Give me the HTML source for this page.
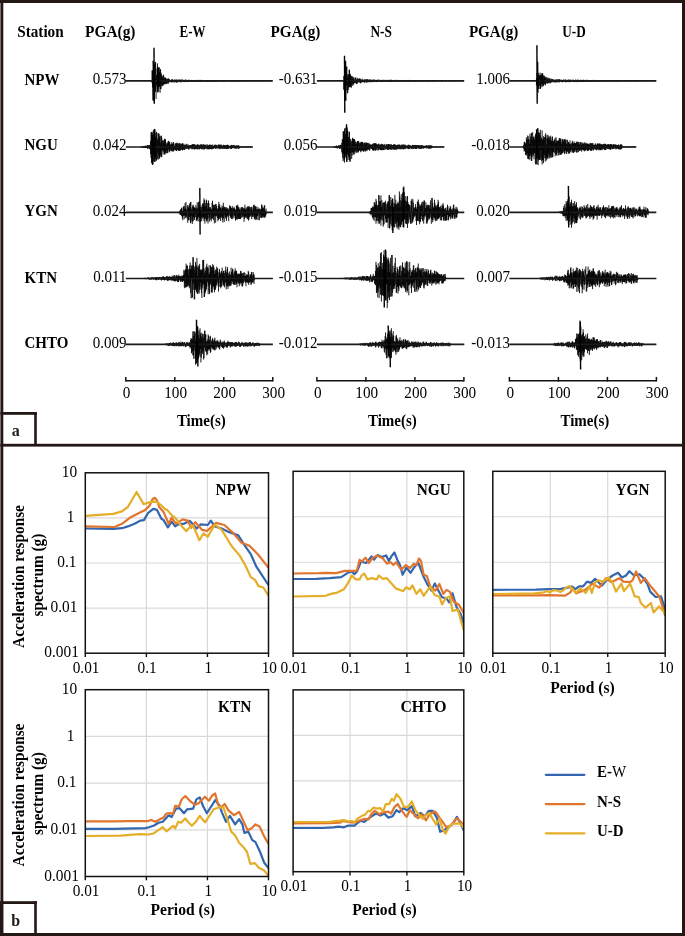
<!DOCTYPE html>
<html><head><meta charset="utf-8"><title>Figure</title>
<style>
html,body{margin:0;padding:0;background:#fff;}
body{width:685px;height:936px;overflow:hidden;font-family:"Liberation Serif",serif;}
svg{display:block;will-change:transform;}
text{font-family:"Liberation Serif",serif;}
</style></head>
<body>
<svg width="685" height="936" viewBox="0 0 685 936" font-family="Liberation Serif, serif">
<rect x="0" y="0" width="685" height="936" fill="#fff"/>
<rect x="0" y="0" width="685" height="3" fill="#231815"/>
<rect x="0.4" y="0" width="2.9" height="936" fill="#231815"/>
<rect x="682" y="0" width="3" height="936" fill="#231815"/>
<rect x="0" y="933" width="685" height="3" fill="#231815"/>
<rect x="0.4" y="443.8" width="684" height="2.8" fill="#231815"/>
<rect x="0.4" y="412" width="36.4" height="2.8" fill="#231815"/>
<rect x="34.2" y="412" width="2.6" height="34" fill="#231815"/>
<rect x="0.4" y="901.2" width="36.4" height="2.8" fill="#231815"/>
<rect x="34.2" y="901.2" width="2.6" height="34" fill="#231815"/>
<rect x="0" y="901.2" width="3.2" height="35" fill="#231815"/>
<text transform="translate(15.80,436.00) scale(1,1.05)" x="0" y="0" font-size="16" font-weight="bold" text-anchor="middle" fill="#231815" >a</text>
<text transform="translate(15.80,925.50) scale(1,1.05)" x="0" y="0" font-size="16" font-weight="bold" text-anchor="middle" fill="#231815" >b</text>
<text transform="translate(17.20,36.70) scale(1,1.05)" x="0" y="0" font-size="15" font-weight="bold" text-anchor="start" fill="#000" textLength="46.5" lengthAdjust="spacingAndGlyphs">Station</text>
<text transform="translate(85.10,36.60) scale(1,1.05)" x="0" y="0" font-size="15" font-weight="bold" text-anchor="start" fill="#000" textLength="50.4" lengthAdjust="spacingAndGlyphs">PGA(g)</text>
<text transform="translate(270.60,36.60) scale(1,1.05)" x="0" y="0" font-size="15" font-weight="bold" text-anchor="start" fill="#000" textLength="49.7" lengthAdjust="spacingAndGlyphs">PGA(g)</text>
<text transform="translate(468.90,36.60) scale(1,1.05)" x="0" y="0" font-size="15" font-weight="bold" text-anchor="start" fill="#000" textLength="49.5" lengthAdjust="spacingAndGlyphs">PGA(g)</text>
<text transform="translate(179.50,36.60) scale(1,1.05)" x="0" y="0" font-size="15" font-weight="bold" text-anchor="start" fill="#000" textLength="26.0" lengthAdjust="spacingAndGlyphs">E-W</text>
<text transform="translate(370.40,36.60) scale(1,1.05)" x="0" y="0" font-size="15" font-weight="bold" text-anchor="start" fill="#000" textLength="21.4" lengthAdjust="spacingAndGlyphs">N-S</text>
<text transform="translate(562.30,36.60) scale(1,1.05)" x="0" y="0" font-size="15" font-weight="bold" text-anchor="start" fill="#000" textLength="23.5" lengthAdjust="spacingAndGlyphs">U-D</text>
<text transform="translate(24.50,84.90) scale(1,1.05)" x="0" y="0" font-size="15" font-weight="bold" text-anchor="start" fill="#000" >NPW</text>
<text transform="translate(126.40,84.25) scale(1,1.05)" x="0" y="0" font-size="15" text-anchor="end" fill="#000" >0.573</text>
<path d="M152.03,70.41V82.99M152.48,70.46V87.42M152.93,70.46V100.36M153.38,79.85V95.26M153.83,67.72V96.44M154.28,65.06V89.28M154.73,63.43V89.01M155.18,61.86V91.70M155.62,62.10V91.69M156.08,78.54V98.92M156.53,74.98V84.94M156.98,68.57V86.58M157.43,63.37V92.29M157.88,73.82V92.38M158.33,76.42V85.09M158.78,76.02V92.06M159.23,67.23V85.87M159.68,72.07V87.05M160.12,69.80V92.59M160.58,69.03V88.97M161.03,72.64V88.97M161.48,74.26V84.23M161.93,76.09V86.00M162.38,77.19V86.27M162.83,76.09V85.31M163.28,74.58V85.37M163.73,75.28V83.88M164.18,78.46V84.36M164.62,77.74V83.98M165.08,77.27V84.36M165.53,77.93V83.50M165.98,77.93V83.29M166.43,79.17V84.12M166.88,78.94V83.21M167.33,78.98V82.40M167.78,79.21V83.69M168.23,78.03V83.69M168.68,79.12V82.51M169.12,79.07V82.37M169.58,79.39V81.29M170.03,80.16V81.96M170.48,80.22V81.76M170.93,79.89V82.02M171.38,79.93V82.50M171.83,79.15V81.81M172.28,79.27V81.76M172.73,80.12V82.36M173.18,79.65V82.08M173.62,80.17V81.62M174.08,79.77V82.44M174.53,80.07V82.15M174.98,79.44V81.13M175.43,79.78V81.58M175.88,80.07V82.38M176.33,79.45V82.36M176.78,79.83V82.35M177.23,79.93V82.35M177.68,79.58V82.33M178.12,80.33V81.48M178.58,79.83V81.58M179.03,79.51V81.33M179.48,80.08V81.29M179.93,79.45V82.20M180.38,79.77V82.05M180.83,80.34V82.22M181.28,79.93V82.21M181.73,79.50V81.33M182.18,79.79V81.42M182.62,79.53V81.31M183.08,80.15V81.58M183.53,80.21V81.87M183.98,80.61V82.00M184.43,80.14V82.12M184.88,79.95V81.75M185.33,79.61V81.53M185.78,79.61V81.37M186.23,79.88V81.76M186.68,80.12V81.76M187.12,80.44V82.03M187.58,79.98V82.03M188.03,79.99V81.54M188.48,79.71V81.24M188.93,80.03V81.98M189.38,80.16V81.27M189.83,79.75V81.22M190.28,80.26V81.29M190.73,80.83V81.58M191.18,80.18V81.49M191.62,79.95V81.69M192.08,80.36V81.34M192.53,80.60V81.70M192.98,80.47V81.76M193.43,80.08V81.45M193.88,79.95V81.38M194.33,80.23V81.04M194.78,80.00V81.60M195.23,80.51V81.31M195.68,80.27V81.60M196.12,80.61V81.69M196.58,80.28V81.43M197.03,79.83V81.75M197.48,80.12V81.54M197.93,80.54V81.15M198.38,80.45V81.37M198.83,80.30V81.60M199.28,80.52V81.33M199.73,79.85V81.85M200.18,79.85V81.49M200.62,80.10V81.39M201.08,80.15V81.60M201.53,79.98V81.60M201.98,79.98V81.66M202.43,80.37V81.82M202.88,80.50V81.82M203.33,79.95V80.97M203.78,80.00V81.38M204.23,80.32V81.24M204.68,80.29V81.36M205.12,80.42V81.36M205.58,80.40V81.41M206.03,80.54V81.33M206.48,80.34V81.61M206.93,80.51V81.08M207.38,80.08V81.54M207.83,80.42V81.73M208.28,80.04V81.76M208.73,80.03V81.16M209.18,79.96V81.47M209.62,80.49V81.24M210.08,80.30V81.74M210.53,80.32V81.74M210.98,80.17V81.63M211.43,80.36V81.22M211.88,80.61V81.43M212.33,80.34V81.32M212.78,80.24V81.67M213.23,80.37V81.67M213.68,80.22V81.25M214.12,80.14V81.55M214.58,80.50V81.26M215.03,80.26V81.26M215.48,80.30V81.41M215.93,80.71V81.61M216.38,80.23V81.68M216.83,80.26V81.24M217.28,80.20V81.23M217.73,80.04V81.51M218.18,80.09V81.56M218.62,80.44V81.41M219.08,80.46V81.39M219.53,80.06V81.09M219.98,80.46V81.09M220.43,80.69V81.40M220.88,80.50V81.40M221.33,80.15V81.49M221.78,80.38V81.62M222.23,80.44V81.17M222.68,80.24V80.96M223.12,80.66V81.61M223.58,80.47V81.61M224.03,80.29V81.08M224.48,80.37V81.37M224.93,80.45V81.59M225.38,80.64V81.10M225.83,80.23V81.53M226.28,80.57V81.10M226.73,80.28V81.19M227.18,80.20V81.31M227.62,80.34V80.93M228.08,80.63V81.09M228.53,80.36V81.34M228.98,80.54V81.39M229.43,80.42V81.24M229.88,80.23V81.39M230.33,80.33V81.17M230.78,80.57V81.20M231.23,80.69V81.18M231.68,80.17V81.46M232.12,80.26V81.19M232.58,80.47V81.23M233.03,80.41V81.50M233.48,80.20V81.25M233.93,80.50V81.31M234.38,80.58V81.45M234.83,80.19V81.45M235.28,80.49V81.00M235.73,80.43V81.50M236.18,80.59V81.32M236.62,80.26V81.01M237.08,80.48V81.33M237.53,80.53V81.47M237.98,80.55V81.20M238.43,80.27V81.48M238.88,80.58V81.48M239.33,80.29V81.26M239.78,80.48V81.28M240.23,80.23V81.05M240.68,80.56V81.18M241.12,80.24V81.47M241.58,80.28V81.23M242.03,80.42V81.20M242.48,80.68V81.12M242.93,80.31V81.45M243.38,80.31V81.17M243.83,80.51V81.31M244.28,80.50V81.07M244.73,80.38V81.08M245.18,80.41V81.26M245.62,80.62V81.26M246.08,80.43V81.22M246.53,80.43V81.18M246.98,80.38V81.19M247.43,80.49V81.21M247.88,80.36V81.29M248.33,80.28V81.11M248.78,80.41V81.07M249.23,80.50V81.32M249.68,80.61V81.19M250.12,80.62V81.21M250.58,80.33V81.36M251.03,80.37V81.08M251.48,80.60V81.02M251.93,80.59V81.33M252.38,80.69V81.08M252.83,80.51V81.09M253.28,80.41V81.25M253.73,80.55V81.07M254.18,80.44V81.19M254.62,80.67V81.26M255.08,80.65V81.16M255.53,80.58V81.26M255.98,80.59V81.27M256.43,80.69V81.05M256.88,80.51V81.36M257.33,80.51V81.24M257.78,80.34V81.13M258.23,80.35V81.27M258.68,80.51V81.23M259.12,80.51V81.35M259.58,80.60V81.01M260.03,80.63V81.09M260.48,80.78V81.34M260.93,80.37V81.16M261.38,80.37V81.04M261.83,80.49V81.08M262.28,80.37V81.13M262.73,80.38V81.09M263.18,80.56V81.07M263.62,80.65V81.32M264.08,80.65V81.31M264.53,80.72V81.20M264.98,80.49V81.00M265.43,80.49V80.92M265.88,80.69V81.12M266.33,80.43V80.99M266.78,80.49V81.26M267.23,80.86V81.26M267.68,80.49V81.16M268.12,80.43V80.87M268.58,80.63V81.10M269.03,80.58V81.28M269.48,80.48V81.04M269.93,80.58V81.09M270.38,80.71V81.16M270.83,80.51V81.03M271.28,80.55V81.05M271.73,80.54V80.98" fill="none" stroke="#000" stroke-width="0.9"/>
<line x1="125.80" y1="80.85" x2="272.80" y2="80.85" stroke="#1a1a1a" stroke-width="1.6"/>
<path d="M154.00,47.85 L154.30,103.85" stroke="#000" stroke-width="1.4" fill="none"/>
<path d="M153.20,60.85 L153.50,100.85" stroke="#000" stroke-width="1.4" fill="none"/>
<path d="M157.80,66.85 L158.10,88.85" stroke="#000" stroke-width="1.4" fill="none"/>
<path d="M158.60,67.85 L158.90,86.85" stroke="#000" stroke-width="1.4" fill="none"/>
<text transform="translate(317.50,84.25) scale(1,1.05)" x="0" y="0" font-size="15" text-anchor="end" fill="#000" >-0.631</text>
<path d="M343.73,75.84V89.67M344.18,80.25V90.19M344.62,69.80V97.82M345.07,66.99V92.52M345.52,67.77V90.57M345.98,72.06V84.00M346.43,66.58V85.94M346.88,66.58V90.33M347.32,74.19V93.33M347.77,76.90V92.95M348.23,77.63V90.13M348.68,73.96V87.62M349.12,74.25V87.09M349.57,74.23V87.24M350.02,73.79V86.51M350.48,74.59V87.19M350.93,75.68V86.50M351.38,76.14V87.71M351.82,78.92V85.05M352.27,76.10V83.41M352.73,77.51V85.91M353.18,78.97V84.05M353.62,77.12V84.66M354.07,79.17V83.40M354.52,79.96V83.06M354.98,77.54V82.18M355.43,77.64V82.77M355.88,77.81V83.04M356.32,79.72V84.13M356.77,80.06V83.35M357.23,77.80V83.94M357.68,78.84V82.74M358.12,79.29V81.65M358.57,78.73V82.29M359.02,79.97V81.85M359.48,78.28V82.05M359.93,79.28V82.86M360.38,78.76V83.35M360.82,79.76V82.96M361.27,80.25V82.40M361.73,79.57V82.48M362.18,78.56V81.91M362.62,80.04V81.62M363.07,80.24V82.22M363.52,79.95V82.03M363.98,79.37V81.47M364.43,79.67V82.84M364.88,79.65V82.64M365.32,79.61V81.75M365.77,79.38V81.72M366.23,79.45V82.18M366.68,79.49V82.59M367.12,79.49V81.51M367.57,79.22V82.27M368.02,79.61V82.46M368.48,80.12V81.67M368.93,79.58V81.33M369.38,79.39V81.62M369.82,79.88V82.20M370.27,80.33V81.92M370.73,79.49V82.22M371.18,79.83V81.46M371.62,79.84V81.83M372.07,80.44V82.05M372.52,80.56V82.07M372.98,79.64V82.19M373.43,79.64V81.04M373.88,79.66V81.24M374.32,80.39V82.04M374.77,79.56V81.68M375.23,80.06V81.78M375.68,80.58V81.49M376.12,79.93V81.23M376.57,79.93V82.13M377.02,80.27V81.74M377.48,79.78V81.74M377.93,79.75V82.00M378.38,79.76V81.86M378.82,79.86V81.66M379.27,79.88V81.37M379.73,80.72V81.37M380.18,79.82V81.71M380.62,80.02V81.24M381.07,80.27V82.00M381.52,79.92V82.07M381.98,80.08V81.85M382.43,79.89V81.49M382.88,80.19V81.50M383.32,79.93V81.50M383.77,79.72V81.83M384.23,80.08V81.52M384.68,80.25V81.37M385.12,79.80V81.49M385.57,80.26V81.73M386.02,80.58V81.42M386.48,80.03V81.76M386.93,80.04V81.51M387.38,79.98V81.32M387.82,79.87V81.34M388.27,80.34V81.35M388.73,79.93V81.78M389.18,80.22V81.50M389.62,79.74V81.56M390.07,80.23V81.95M390.52,80.16V81.94M390.98,79.79V81.48M391.43,79.77V81.85M391.88,80.24V81.38M392.32,80.14V81.51M392.77,80.13V81.24M393.23,80.34V81.48M393.68,80.05V81.77M394.12,80.50V81.46M394.57,80.62V81.29M395.02,79.82V81.34M395.48,80.19V81.43M395.93,80.71V81.54M396.38,80.29V81.43M396.82,79.87V81.23M397.27,80.22V81.24M397.73,80.58V81.41M398.18,80.42V81.70M398.62,80.04V81.43M399.07,79.96V81.50M399.52,80.19V81.39M399.98,79.94V81.16M400.43,80.31V81.06M400.88,80.57V81.58M401.32,80.25V81.63M401.77,80.31V81.55M402.23,80.28V81.42M402.68,80.29V81.33M403.12,80.48V81.27M403.57,80.08V81.08M404.02,80.06V81.51M404.48,80.10V81.77M404.93,79.98V81.34M405.38,79.98V81.17M405.82,80.56V81.39M406.27,80.30V81.26M406.73,80.30V81.17M407.18,80.56V81.75M407.62,80.46V81.68M408.07,79.96V81.32M408.52,79.96V81.43M408.98,80.30V81.24M409.43,80.56V81.73M409.88,80.59V81.63M410.32,79.97V81.28M410.77,80.31V81.31M411.23,80.64V81.30M411.68,80.57V81.36M412.12,80.30V81.69M412.57,80.21V81.22M413.02,80.02V81.16M413.48,80.30V81.12M413.93,80.01V81.32M414.38,80.36V81.69M414.82,80.68V81.69M415.27,80.37V81.68M415.73,80.24V80.87M416.18,80.40V81.21M416.62,80.23V81.35M417.07,80.21V81.40M417.52,80.36V81.35M417.98,80.48V81.25M418.43,80.27V81.52M418.88,80.05V81.42M419.32,80.36V81.24M419.77,80.06V81.28M420.23,80.36V81.22M420.68,80.27V81.64M421.12,80.19V81.20M421.57,80.43V81.39M422.02,80.42V81.46M422.48,80.36V81.62M422.93,80.14V81.30M423.38,80.36V81.14M423.82,80.58V81.31M424.27,80.47V81.25M424.73,80.36V81.21M425.18,80.31V81.48M425.62,80.50V81.19M426.07,80.11V81.42M426.52,80.57V81.23M426.98,80.33V81.36M427.43,80.35V81.43M427.88,80.52V81.44M428.32,80.50V81.40M428.77,80.26V81.26M429.23,80.37V81.56M429.68,80.40V81.30M430.12,80.15V81.21M430.57,80.15V81.04M431.02,80.55V81.22M431.48,80.64V81.31M431.93,80.55V81.29M432.38,80.22V81.26M432.82,80.37V81.22M433.27,80.55V81.48M433.73,80.55V81.27M434.18,80.41V81.08M434.62,80.56V81.51M435.07,80.45V81.51M435.52,80.56V81.00M435.98,80.56V81.18M436.43,80.44V81.31M436.88,80.67V81.33M437.32,80.52V81.18M437.77,80.54V81.19M438.23,80.32V81.08M438.68,80.39V81.05M439.12,80.22V81.48M439.57,80.44V81.12M440.02,80.62V81.21M440.48,80.51V81.17M440.93,80.39V81.24M441.38,80.56V81.46M441.82,80.47V81.45M442.27,80.45V81.35M442.73,80.54V81.12M443.18,80.52V81.13M443.62,80.36V81.08M444.07,80.36V81.07M444.52,80.55V81.24M444.98,80.73V81.21M445.43,80.51V81.27M445.88,80.61V81.42M446.32,80.62V81.34M446.77,80.37V81.04M447.23,80.29V81.05M447.68,80.55V80.89M448.12,80.55V81.07M448.57,80.44V81.20M449.02,80.68V81.13M449.48,80.37V81.38M449.93,80.32V81.22M450.38,80.34V81.27M450.82,80.42V81.20M451.27,80.41V81.05M451.73,80.33V81.18M452.18,80.58V81.18M452.62,80.44V81.30M453.07,80.58V81.30M453.52,80.48V81.08M453.98,80.58V81.35M454.43,80.52V81.35M454.88,80.54V81.19M455.32,80.36V81.14M455.77,80.57V81.11M456.23,80.74V81.16M456.68,80.75V81.06M457.12,80.53V80.93M457.57,80.45V81.10M458.02,80.57V81.18M458.48,80.39V81.21M458.93,80.53V81.15M459.38,80.63V81.14M459.82,80.71V81.27M460.27,80.59V81.02M460.73,80.50V81.13M461.18,80.56V81.09M461.62,80.55V81.17M462.07,80.50V81.02M462.52,80.43V81.09M462.98,80.43V81.12M463.43,80.79V81.17" fill="none" stroke="#000" stroke-width="0.9"/>
<line x1="316.90" y1="80.85" x2="464.20" y2="80.85" stroke="#1a1a1a" stroke-width="1.6"/>
<path d="M344.50,55.85 L344.80,112.85" stroke="#000" stroke-width="1.4" fill="none"/>
<path d="M345.50,60.85 L345.80,100.85" stroke="#000" stroke-width="1.4" fill="none"/>
<path d="M349.30,69.85 L349.60,85.85" stroke="#000" stroke-width="1.4" fill="none"/>
<text transform="translate(510.00,84.25) scale(1,1.05)" x="0" y="0" font-size="15" text-anchor="end" fill="#000" >1.006</text>
<path d="M536.43,78.56V85.42M536.88,73.05V85.10M537.33,78.68V90.23M537.78,72.96V89.31M538.23,72.96V86.66M538.68,75.04V88.82M539.12,75.99V82.92M539.58,75.26V85.96M540.03,72.50V88.96M540.48,74.76V88.94M540.93,76.11V87.78M541.38,75.17V83.40M541.83,73.62V86.37M542.28,75.78V84.27M542.73,73.31V86.70M543.18,79.62V85.53M543.62,75.45V85.97M544.08,75.60V82.87M544.53,76.33V84.00M544.98,78.10V84.57M545.43,77.42V85.30M545.88,76.70V83.79M546.33,77.46V82.20M546.78,79.28V82.83M547.23,80.56V83.62M547.68,77.60V83.33M548.12,77.76V82.89M548.58,79.02V83.20M549.03,78.61V82.56M549.48,78.32V81.08M549.93,79.66V83.49M550.38,80.37V82.95M550.83,78.37V82.33M551.28,79.55V82.33M551.73,78.94V82.33M552.18,79.11V82.06M552.62,79.11V81.64M553.08,79.84V82.13M553.53,79.67V82.37M553.98,79.51V81.26M554.43,80.28V82.05M554.88,79.93V82.36M555.33,79.90V82.44M555.78,79.49V82.08M556.23,79.41V82.17M556.68,79.68V82.47M557.12,79.78V81.80M557.58,79.77V81.19M558.03,79.26V82.27M558.48,79.28V82.13M558.93,80.60V81.92M559.38,79.30V82.42M559.83,79.40V81.76M560.28,79.83V80.81M560.73,80.06V81.65M561.18,79.93V82.00M561.62,79.61V81.15M562.08,80.25V81.74M562.53,80.52V82.36M562.98,80.14V82.06M563.43,79.56V81.43M563.88,80.26V81.50M564.33,79.59V81.00M564.78,79.86V81.57M565.23,79.96V81.82M565.68,79.40V82.31M566.12,80.92V82.02M566.58,80.11V82.19M567.03,79.95V81.48M567.48,80.39V81.98M567.93,79.80V81.93M568.38,79.44V81.21M568.83,80.18V81.71M569.28,80.51V82.24M569.73,79.72V82.08M570.18,79.48V81.55M570.62,80.64V81.87M571.08,80.70V81.80M571.53,80.37V81.64M571.98,79.80V80.86M572.43,79.96V81.34M572.88,79.63V81.78M573.33,79.81V81.51M573.78,80.04V81.56M574.23,80.00V81.72M574.68,80.42V82.14M575.12,80.18V81.62M575.58,79.58V81.71M576.03,79.85V82.07M576.48,80.38V82.11M576.93,80.32V81.48M577.38,79.65V81.26M577.83,79.99V81.81M578.28,79.63V81.46M578.73,80.29V82.07M579.18,80.16V81.79M579.62,80.40V81.77M580.08,80.46V81.85M580.53,79.74V81.59M580.98,80.19V81.65M581.43,80.56V81.93M581.88,80.22V82.01M582.33,79.77V81.59M582.78,80.22V81.90M583.23,80.16V81.90M583.68,79.72V81.98M584.12,80.38V81.91M584.58,80.03V81.96M585.03,80.27V81.17M585.48,79.91V81.24M585.93,80.39V81.13M586.38,80.39V81.48M586.83,79.92V81.69M587.28,79.79V81.48M587.73,80.67V81.73M588.18,80.24V81.68M588.62,80.33V81.25M589.08,80.16V81.44M589.53,80.35V81.42M589.98,80.05V81.66M590.43,80.17V81.70M590.88,80.04V81.84M591.33,80.26V81.68M591.78,80.25V81.23M592.23,80.02V81.39M592.68,79.94V81.80M593.12,80.19V81.53M593.58,79.90V81.20M594.03,80.16V81.53M594.48,80.16V81.39M594.93,80.62V81.42M595.38,80.41V81.73M595.83,80.16V81.52M596.28,79.96V81.26M596.73,79.97V81.08M597.18,80.25V81.15M597.62,80.56V81.72M598.08,80.44V81.57M598.53,80.13V81.43M598.98,80.31V81.44M599.43,80.19V81.25M599.88,80.29V81.12M600.33,80.34V81.33M600.78,80.25V81.05M601.23,80.71V81.56M601.68,80.52V81.49M602.12,80.05V81.47M602.58,80.06V81.37M603.03,80.17V81.15M603.48,80.46V81.30M603.93,80.43V81.65M604.38,80.51V81.60M604.83,80.36V81.49M605.28,80.36V81.29M605.73,80.36V81.14M606.18,80.38V81.01M606.62,80.57V81.53M607.08,80.34V81.62M607.53,80.34V81.20M607.98,80.42V81.62M608.43,80.31V81.31M608.88,80.14V81.18M609.33,80.14V81.61M609.78,80.22V81.38M610.23,80.47V81.12M610.68,80.33V81.25M611.12,80.11V81.05M611.58,80.26V81.22M612.03,80.52V81.37M612.48,80.54V81.58M612.93,80.45V81.36M613.38,80.35V81.16M613.83,80.44V81.09M614.28,80.38V81.37M614.73,80.25V81.27M615.18,80.26V81.10M615.62,80.40V81.56M616.08,80.40V81.18M616.53,80.34V81.29M616.98,80.52V81.41M617.43,80.15V81.54M617.88,80.20V81.54M618.33,80.16V81.54M618.78,80.51V81.04M619.23,80.31V80.97M619.68,80.54V81.27M620.12,80.51V81.33M620.58,80.37V81.47M621.03,80.54V81.49M621.48,80.18V81.38M621.93,80.52V81.12M622.38,80.39V81.26M622.83,80.68V81.19M623.28,80.58V81.11M623.73,80.41V81.09M624.18,80.55V81.07M624.62,80.50V81.24M625.08,80.47V81.23M625.53,80.52V81.23M625.98,80.50V81.22M626.43,80.42V81.32M626.88,80.42V81.42M627.33,80.50V81.46M627.78,80.23V81.16M628.23,80.27V81.41M628.68,80.26V81.19M629.12,80.58V81.17M629.58,80.59V81.39M630.03,80.54V81.10M630.48,80.48V81.16M630.93,80.61V81.19M631.38,80.54V81.24M631.83,80.26V81.40M632.28,80.32V81.25M632.73,80.79V81.13M633.18,80.36V81.32M633.62,80.50V80.95M634.08,80.37V81.40M634.53,80.58V81.40M634.98,80.50V81.26M635.43,80.57V81.17M635.88,80.50V81.17M636.33,80.44V81.34M636.78,80.46V81.34M637.23,80.40V81.40M637.68,80.68V81.24M638.12,80.43V81.40M638.58,80.37V81.11M639.03,80.57V81.05M639.48,80.77V81.10M639.93,80.53V81.23M640.38,80.42V81.19M640.83,80.34V80.98M641.28,80.57V81.37M641.73,80.70V81.37M642.18,80.37V81.15M642.62,80.41V81.07M643.08,80.52V81.36M643.53,80.66V81.15M643.98,80.62V81.10M644.43,80.42V81.05M644.88,80.55V81.17M645.33,80.67V81.21M645.78,80.61V81.12M646.23,80.51V81.08M646.68,80.76V81.23M647.12,80.44V81.31M647.58,80.57V80.93M648.03,80.42V81.18M648.48,80.52V81.10M648.93,80.39V81.07M649.38,80.75V81.09M649.83,80.54V81.31M650.28,80.60V81.01M650.73,80.63V81.00M651.18,80.62V81.29M651.62,80.61V81.06M652.08,80.77V81.04M652.53,80.65V81.29M652.98,80.54V81.16M653.43,80.65V81.08M653.88,80.65V80.97M654.33,80.65V81.20M654.78,80.63V81.23M655.23,80.67V81.09M655.68,80.51V81.26" fill="none" stroke="#000" stroke-width="0.9"/>
<line x1="509.40" y1="80.85" x2="656.30" y2="80.85" stroke="#1a1a1a" stroke-width="1.6"/>
<path d="M536.90,45.35 L537.20,103.85" stroke="#000" stroke-width="1.4" fill="none"/>
<path d="M537.60,61.85 L537.90,92.85" stroke="#000" stroke-width="1.4" fill="none"/>
<path d="M542.20,73.35 L542.50,83.85" stroke="#000" stroke-width="1.4" fill="none"/>
<text transform="translate(24.50,149.90) scale(1,1.05)" x="0" y="0" font-size="15" font-weight="bold" text-anchor="start" fill="#000" >NGU</text>
<text transform="translate(126.40,150.35) scale(1,1.05)" x="0" y="0" font-size="15" text-anchor="end" fill="#000" >0.042</text>
<path d="M140.68,146.74V147.20M141.12,146.74V147.21M141.57,146.64V147.18M142.03,146.42V147.08M142.47,146.77V147.26M142.93,146.31V147.83M143.38,145.99V147.97M143.82,146.29V147.79M144.28,146.43V147.89M144.72,146.68V148.06M145.18,145.48V147.98M145.62,146.28V147.65M146.07,145.87V147.97M146.53,145.94V147.70M146.97,145.73V147.94M147.43,145.19V148.74M147.88,145.11V148.78M148.32,145.27V147.61M148.78,145.40V148.39M149.22,146.10V148.24M149.68,144.86V149.06M150.12,145.50V149.40M150.57,140.78V154.15M151.03,132.38V157.77M151.47,132.10V163.32M151.93,131.86V161.22M152.38,140.16V165.07M152.82,132.61V164.78M153.28,130.36V161.38M153.72,134.37V154.79M154.18,129.01V161.02M154.62,128.86V161.90M155.07,129.31V161.90M155.53,136.54V157.21M155.97,133.17V160.84M156.43,131.84V160.64M156.88,132.68V159.26M157.32,138.76V152.89M157.78,140.51V159.22M158.22,133.23V159.53M158.68,133.46V154.95M159.12,133.83V157.95M159.57,136.78V158.77M160.03,136.16V157.07M160.47,142.82V155.61M160.93,135.71V152.14M161.38,135.71V157.35M161.82,137.71V156.85M162.28,140.70V150.10M162.72,140.70V151.11M163.18,143.82V154.51M163.62,140.33V151.61M164.07,140.33V149.69M164.53,138.77V154.47M164.97,138.94V154.47M165.43,139.24V153.13M165.88,142.20V151.52M166.32,143.52V153.46M166.78,145.43V150.27M167.22,143.51V153.08M167.68,142.54V153.07M168.12,141.14V151.69M168.57,140.81V149.16M169.03,142.22V149.80M169.47,141.69V152.38M169.93,145.57V150.95M170.38,144.87V148.94M170.82,143.84V150.86M171.28,142.23V151.32M171.72,144.07V150.44M172.18,144.33V147.98M172.62,143.58V151.52M173.07,142.14V151.60M173.53,142.21V151.16M173.97,143.72V150.63M174.43,146.01V149.82M174.88,145.54V148.14M175.32,143.26V149.92M175.78,143.76V150.33M176.22,143.67V151.01M176.68,142.71V150.99M177.12,143.16V148.86M177.57,144.47V149.91M178.03,142.86V150.25M178.47,144.49V150.84M178.93,143.08V149.99M179.38,144.57V150.74M179.82,143.07V150.71M180.28,143.60V150.68M180.72,144.61V149.68M181.18,144.19V148.06M181.62,144.27V149.77M182.07,143.35V149.93M182.53,143.36V150.46M182.97,143.41V149.59M183.43,145.59V149.23M183.88,143.87V149.96M184.32,144.99V150.05M184.78,145.45V150.03M185.22,144.71V148.61M185.68,145.17V148.44M186.12,143.74V148.77M186.57,144.53V148.36M187.03,145.26V149.11M187.47,145.62V148.58M187.93,143.89V147.86M188.38,145.40V148.86M188.82,145.69V149.90M189.28,145.49V148.86M189.72,145.18V148.42M190.18,145.05V148.57M190.62,145.38V147.57M191.07,145.63V148.00M191.53,145.07V148.55M191.97,144.44V149.61M192.43,144.44V148.81M192.88,144.21V148.40M193.32,144.23V148.69M193.78,144.24V148.83M194.22,144.41V149.36M194.68,144.73V149.54M195.12,144.45V149.01M195.57,145.19V148.97M196.03,145.34V148.88M196.47,145.77V149.12M196.93,144.68V148.39M197.38,144.43V149.20M197.82,144.70V149.49M198.28,144.49V148.15M198.72,145.05V148.70M199.18,145.26V149.46M199.62,145.57V149.18M200.07,144.60V148.32M200.53,144.53V148.30M200.97,145.66V148.88M201.43,144.37V149.37M201.88,144.38V148.63M202.32,145.59V148.42M202.78,144.72V149.32M203.22,144.41V148.60M203.68,144.41V149.38M204.12,145.88V149.37M204.57,144.94V149.36M205.03,144.44V149.01M205.48,144.99V147.75M205.93,146.00V148.83M206.38,146.30V148.11M206.82,144.48V148.92M207.28,144.48V149.31M207.73,145.59V149.16M208.18,145.77V149.19M208.62,145.20V149.29M209.07,144.86V148.17M209.53,144.52V149.27M209.98,145.16V148.70M210.43,145.13V149.00M210.88,144.55V149.12M211.32,145.19V149.08M211.78,145.28V149.24M212.23,145.71V149.23M212.68,144.57V148.33M213.12,145.46V148.43M213.57,146.20V148.88M214.03,146.04V148.24M214.48,144.75V148.09M214.93,145.72V148.10M215.38,144.82V148.78M215.82,144.62V148.61M216.28,145.13V148.45M216.73,145.13V148.34M217.18,145.50V147.67M217.62,146.29V147.96M218.07,144.65V149.14M218.53,144.65V147.77M218.98,145.45V148.15M219.43,144.67V149.12M219.88,144.78V148.42M220.32,144.68V147.80M220.78,145.79V149.10M221.23,144.71V148.37M221.68,144.79V148.11M222.12,145.41V149.08M222.57,145.91V148.46M223.03,145.98V147.98M223.48,144.73V148.84M223.93,145.54V147.43M224.38,145.06V148.74M224.82,145.11V148.82M225.28,145.11V148.29M225.73,146.05V148.87M226.18,145.33V148.48M226.62,145.17V149.02M227.07,144.78V148.92M227.53,144.79V148.75M227.98,145.10V148.99M228.43,145.14V148.68M228.88,145.90V148.23M229.32,145.87V148.23M229.78,145.82V147.75M230.23,146.28V148.25M230.68,145.77V148.86M231.12,144.85V148.56M231.57,145.01V148.93M232.03,145.83V148.46M232.48,145.50V147.97M232.93,145.10V147.83M233.38,144.88V147.97M233.82,145.49V148.17M234.28,145.61V148.50M234.73,145.29V148.09M235.18,146.21V147.60M235.62,145.98V148.70M236.07,145.20V148.70M236.53,145.46V148.28M236.98,146.00V148.46M237.43,145.33V148.13M237.88,145.85V148.03M238.32,145.56V148.83M238.78,145.21V148.83M239.23,146.14V148.18M239.68,146.50V148.18M240.12,146.69V147.16M240.57,146.58V147.25M241.03,146.52V147.37M241.48,146.64V147.18M241.93,146.59V147.17M242.38,146.66V147.27M242.82,146.54V147.34M243.28,146.69V147.22M243.73,146.66V147.15M244.18,146.66V147.32M244.62,146.69V147.24M245.07,146.75V147.35M245.53,146.75V147.25M245.98,146.58V147.27M246.43,146.60V147.33M246.88,146.70V147.33M247.32,146.68V147.26M247.78,146.58V147.13M248.23,146.58V147.31M248.68,146.66V147.32M249.12,146.82V147.27M249.57,146.67V147.20M250.03,146.66V147.24M250.48,146.64V147.23M250.93,146.60V147.22M251.38,146.71V147.19M251.82,146.68V147.20M252.28,146.71V147.22" fill="none" stroke="#000" stroke-width="0.9"/>
<line x1="125.80" y1="146.95" x2="252.80" y2="146.95" stroke="#1a1a1a" stroke-width="1.6"/>
<path d="M152.40,134.95 L152.70,163.95" stroke="#000" stroke-width="1.4" fill="none"/>
<path d="M154.30,129.95 L154.60,158.95" stroke="#000" stroke-width="1.4" fill="none"/>
<text transform="translate(317.50,150.35) scale(1,1.05)" x="0" y="0" font-size="15" text-anchor="end" fill="#000" >0.056</text>
<path d="M333.68,146.76V147.16M334.12,146.57V147.23M334.57,146.40V147.37M335.02,146.55V147.49M335.48,146.55V147.38M335.93,145.95V147.80M336.38,145.67V148.09M336.82,145.67V147.82M337.27,146.38V148.42M337.73,146.17V148.37M338.18,146.15V147.57M338.62,145.25V147.97M339.07,145.19V147.63M339.52,145.88V148.83M339.98,145.32V148.41M340.43,144.94V148.54M340.88,144.84V147.93M341.32,145.21V149.14M341.77,143.01V152.15M342.23,139.63V153.89M342.68,139.12V157.71M343.12,131.39V161.22M343.57,132.28V153.53M344.02,137.11V160.43M344.48,128.36V162.56M344.93,136.85V158.43M345.38,133.97V154.97M345.82,127.83V156.99M346.27,127.61V157.48M346.73,127.61V154.45M347.18,127.39V154.43M347.62,130.46V152.69M348.07,138.25V159.94M348.52,136.89V156.29M348.98,131.47V157.54M349.43,131.91V159.87M349.88,139.69V162.03M350.32,138.84V161.24M350.77,141.96V152.98M351.23,144.70V152.24M351.68,141.01V158.96M352.12,139.23V155.63M352.57,137.74V152.18M353.02,138.62V152.29M353.48,139.10V153.90M353.93,138.85V154.99M354.38,139.06V151.39M354.82,140.27V153.86M355.27,143.43V152.05M355.73,141.47V150.14M356.18,142.27V150.05M356.62,144.06V152.94M357.07,142.12V152.07M357.52,141.04V151.03M357.98,141.08V152.80M358.43,141.27V152.03M358.88,141.47V149.75M359.32,142.95V150.76M359.77,144.68V150.65M360.23,143.01V149.40M360.68,142.52V152.28M361.12,141.84V150.94M361.57,141.84V151.26M362.02,141.94V151.05M362.48,142.04V149.98M362.93,142.46V150.52M363.38,145.10V151.68M363.82,143.22V151.60M364.27,142.90V150.86M364.73,142.58V149.82M365.18,142.56V151.32M365.62,143.14V151.32M366.07,145.10V150.09M366.52,142.65V150.38M366.98,142.69V151.21M367.43,142.96V149.77M367.88,146.20V148.79M368.32,144.25V149.66M368.77,142.82V149.39M369.23,143.50V149.57M369.68,144.96V150.89M370.12,144.25V149.24M370.57,144.51V148.14M371.02,145.30V148.10M371.48,144.61V148.88M371.93,144.98V148.70M372.38,143.86V150.30M372.82,144.64V149.75M373.27,144.27V150.41M373.73,143.23V150.71M374.18,143.38V150.67M374.62,143.26V149.51M375.07,143.30V148.36M375.52,143.31V150.57M375.98,144.12V150.54M376.43,143.55V149.56M376.88,144.97V147.96M377.32,144.56V148.12M377.77,144.51V150.42M378.23,144.34V150.39M378.68,143.55V149.43M379.12,144.70V148.39M379.57,144.55V149.69M380.02,145.00V147.73M380.48,144.32V149.97M380.93,146.01V149.97M381.38,144.34V150.18M381.82,143.72V150.18M382.27,144.16V150.12M382.73,144.36V149.47M383.18,144.98V150.12M383.62,144.98V150.02M384.07,144.31V150.01M384.52,145.25V147.63M384.98,143.87V150.03M385.43,145.92V148.93M385.88,146.18V147.93M386.32,144.42V148.87M386.77,144.42V149.21M387.23,144.63V149.74M387.68,144.61V149.51M388.12,144.01V149.89M388.57,144.02V149.84M389.02,145.19V149.16M389.48,144.57V149.34M389.93,144.09V148.65M390.38,144.63V149.79M390.82,145.84V148.33M391.27,144.19V149.75M391.73,144.84V149.17M392.18,145.27V149.72M392.62,145.08V148.69M393.07,145.00V148.57M393.52,144.36V149.47M393.98,144.69V149.63M394.43,144.28V149.51M394.88,144.63V148.46M395.32,144.72V149.58M395.77,144.86V149.57M396.23,146.25V149.47M396.68,145.24V149.52M397.12,144.92V148.58M397.57,144.92V148.75M398.02,144.59V149.46M398.48,145.07V148.07M398.93,144.48V148.92M399.38,145.18V148.76M399.82,144.52V149.29M400.27,145.35V148.93M400.73,145.68V149.07M401.18,145.84V149.33M401.62,144.72V148.65M402.07,144.59V148.54M402.52,145.29V148.78M402.98,144.61V149.28M403.43,144.63V149.27M403.88,144.63V149.27M404.32,145.78V148.16M404.77,144.71V148.76M405.23,144.71V149.15M405.68,145.33V148.12M406.12,145.71V148.33M406.57,145.71V148.29M407.02,145.82V147.95M407.48,145.53V148.48M407.93,145.27V148.59M408.38,144.76V149.14M408.82,144.84V148.65M409.27,144.94V149.11M409.73,145.95V148.49M410.18,144.98V148.49M410.62,145.84V147.46M411.07,146.10V148.39M411.52,146.04V148.85M411.98,145.37V149.04M412.43,144.98V148.74M412.88,144.88V148.21M413.32,145.02V148.44M413.77,145.56V148.99M414.23,145.31V148.64M414.68,144.95V148.32M415.12,145.49V148.55M415.57,144.96V148.94M416.02,145.51V148.35M416.48,145.10V148.92M416.93,145.58V148.91M417.38,145.29V147.70M417.82,145.03V147.86M418.27,145.03V148.09M418.73,145.54V148.50M419.18,145.05V148.85M419.62,145.65V148.83M420.07,145.68V148.69M420.52,145.49V148.44M420.98,145.17V148.80M421.43,145.29V148.78M421.88,145.13V148.32M422.32,145.14V148.17M422.77,146.47V148.44M423.23,146.23V147.83M423.68,145.65V148.72M424.12,145.65V148.13M424.57,146.02V147.78M425.02,146.03V147.70M425.48,145.90V147.66M425.93,145.50V147.81M426.38,145.44V148.55M426.82,145.49V147.67M427.27,145.89V147.72M427.73,145.52V148.18M428.18,145.47V148.59M428.62,145.56V148.26M429.07,145.33V148.49M429.52,145.52V148.49M429.98,145.35V148.54M430.43,145.36V148.44M430.88,146.16V148.30M431.32,145.56V148.32M431.77,145.40V147.39M432.23,146.12V147.87M432.68,146.62V147.40M433.12,146.80V147.17M433.57,146.86V147.07M434.02,146.68V147.28M434.48,146.62V147.13M434.93,146.63V147.12M435.38,146.67V147.25M435.82,146.62V147.28M436.27,146.65V147.15M436.73,146.62V147.28M437.18,146.78V147.27M437.62,146.62V147.28M438.07,146.62V147.12M438.52,146.72V147.13M438.98,146.84V147.21M439.43,146.68V147.28M439.88,146.66V147.09M440.32,146.67V147.19M440.77,146.71V147.22M441.23,146.73V147.15M441.68,146.70V147.19M442.12,146.86V147.28M442.57,146.72V147.23M443.02,146.79V147.05M443.48,146.62V147.18M443.93,146.71V147.14" fill="none" stroke="#000" stroke-width="0.9"/>
<line x1="316.90" y1="146.95" x2="444.30" y2="146.95" stroke="#1a1a1a" stroke-width="1.6"/>
<path d="M346.50,124.25 L346.80,161.95" stroke="#000" stroke-width="1.4" fill="none"/>
<path d="M344.00,130.95 L344.30,158.95" stroke="#000" stroke-width="1.4" fill="none"/>
<text transform="translate(510.00,150.35) scale(1,1.05)" x="0" y="0" font-size="15" text-anchor="end" fill="#000" >-0.018</text>
<path d="M523.23,145.79V147.96M523.67,145.12V148.77M524.12,142.34V151.36M524.58,141.73V150.37M525.02,142.46V151.52M525.48,143.66V154.99M525.92,143.55V152.23M526.38,137.34V154.46M526.83,139.72V155.79M527.27,139.34V153.90M527.73,135.44V158.57M528.17,136.16V159.12M528.62,139.20V158.62M529.08,139.25V159.63M529.52,143.68V156.04M529.98,133.78V159.41M530.42,136.51V154.59M530.88,140.42V156.14M531.33,133.10V161.00M531.77,132.69V161.00M532.23,139.79V157.21M532.67,132.33V154.52M533.12,137.95V153.32M533.58,136.79V155.67M534.02,136.44V159.29M534.48,139.87V153.16M534.92,138.46V152.56M535.38,134.66V163.78M535.83,133.59V164.66M536.27,132.70V154.47M536.73,132.26V158.70M537.17,136.14V158.66M537.62,128.10V158.03M538.08,128.32V165.20M538.52,132.26V160.46M538.98,133.81V159.74M539.42,132.63V159.74M539.88,135.05V159.82M540.33,129.79V159.87M540.77,136.68V150.58M541.23,138.17V157.78M541.67,138.40V160.98M542.12,130.44V164.37M542.58,139.58V160.15M543.02,139.79V160.08M543.48,136.29V163.13M543.92,139.69V154.78M544.38,137.03V155.38M544.83,138.15V158.28M545.27,134.71V161.55M545.73,133.27V158.05M546.17,137.93V157.63M546.62,144.69V160.49M547.08,135.18V158.48M547.52,138.69V157.58M547.98,134.78V159.05M548.42,137.50V153.50M548.88,136.31V157.27M549.33,139.69V155.31M549.77,136.63V158.33M550.23,138.30V157.91M550.67,135.64V155.99M551.12,141.12V150.82M551.58,140.48V157.62M552.02,137.19V153.32M552.48,136.44V157.21M552.92,141.31V157.20M553.38,140.80V151.97M553.83,141.45V151.84M554.27,139.57V152.98M554.73,139.64V148.47M555.17,137.74V156.25M555.62,143.19V154.44M556.08,137.40V151.88M556.52,140.59V154.82M556.98,142.07V155.83M557.42,140.82V150.06M557.88,141.11V152.84M558.33,140.51V152.50M558.77,140.26V155.37M559.23,138.06V154.87M559.67,138.13V152.25M560.12,140.21V153.63M560.58,138.38V154.99M561.02,139.31V148.97M561.48,143.73V154.48M561.92,142.37V153.70M562.38,139.06V153.19M562.83,139.25V151.62M563.27,140.21V152.44M563.73,141.98V149.50M564.17,139.19V153.02M564.62,139.19V154.29M565.08,140.91V150.85M565.52,139.43V150.75M565.98,145.04V152.85M566.42,143.57V154.04M566.88,139.74V151.96M567.33,139.83V151.00M567.77,144.38V151.85M568.23,141.92V153.79M568.67,141.89V153.32M569.12,143.00V150.00M569.58,143.83V153.59M570.02,140.35V151.95M570.48,144.21V150.42M570.92,145.54V152.40M571.38,143.49V150.36M571.83,142.92V149.21M572.27,140.72V152.37M572.73,142.09V151.46M573.17,143.61V152.99M573.62,143.27V152.99M574.08,141.23V150.53M574.52,143.29V151.56M574.98,143.29V152.01M575.42,143.12V149.78M575.88,143.42V150.53M576.33,141.81V152.51M576.77,141.93V152.41M577.23,141.56V152.39M577.67,142.67V150.04M578.12,144.80V149.63M578.58,141.77V152.11M579.02,143.37V150.37M579.48,144.33V150.86M579.92,142.26V150.26M580.38,142.04V149.72M580.83,145.75V150.84M581.27,144.62V149.81M581.73,142.17V151.72M582.17,143.38V149.64M582.62,143.38V149.40M583.08,142.71V150.04M583.52,144.44V150.44M583.98,143.90V149.55M584.42,142.42V151.42M584.88,146.15V149.92M585.33,143.37V150.82M585.77,142.58V149.11M586.23,144.10V150.51M586.67,143.68V149.65M587.12,143.32V148.41M587.58,143.90V151.07M588.02,143.61V150.59M588.48,144.01V150.62M588.92,144.86V149.71M589.38,144.45V148.28M589.83,143.32V150.06M590.27,143.30V150.33M590.73,143.30V150.76M591.17,143.07V150.72M591.62,143.48V150.72M592.08,145.49V150.30M592.52,143.17V148.40M592.98,143.20V149.57M593.42,145.37V150.54M593.88,144.73V149.42M594.33,144.85V149.05M594.77,144.95V148.32M595.23,143.34V149.86M595.67,144.45V148.79M596.12,145.47V149.10M596.58,145.24V150.43M597.02,143.75V149.49M597.48,143.48V149.57M597.92,143.73V149.12M598.38,144.55V148.59M598.83,143.58V150.32M599.27,143.59V150.13M599.73,143.62V148.97M600.17,143.65V150.11M600.62,144.58V150.22M601.08,144.70V149.98M601.52,144.15V149.28M601.98,144.47V150.13M602.42,145.42V149.11M602.88,144.25V149.37M603.33,144.15V148.90M603.77,143.84V147.54M604.23,145.45V149.45M604.67,143.85V150.00M605.12,143.88V149.96M605.58,143.90V149.96M606.02,144.15V149.91M606.48,145.11V148.04M606.92,145.16V147.84M607.38,145.13V148.82M607.83,144.00V149.01M608.27,144.00V148.82M608.73,144.56V149.10M609.17,144.61V148.84M609.62,144.95V149.26M610.08,144.10V149.70M610.52,144.10V149.69M610.98,144.55V149.35M611.42,144.51V148.14M611.88,144.15V148.61M612.33,145.89V148.63M612.77,144.90V149.34M613.23,144.37V149.00M613.67,144.20V148.43M614.12,144.78V148.47M614.58,144.49V148.49M615.02,145.57V147.89M615.48,144.64V148.29M615.92,144.37V149.52M616.38,144.98V148.76M616.83,145.46V148.54M617.27,145.25V148.05M617.73,145.00V148.90M618.17,145.33V148.54M618.62,144.33V149.45M619.08,145.47V148.46M619.52,146.25V149.43M619.98,144.98V148.54M620.42,144.44V149.39M620.88,144.40V149.38M621.33,144.41V149.04M621.77,144.87V148.53M622.23,145.52V147.92M622.67,146.62V147.06M623.12,146.52V147.32M623.58,146.71V147.36M624.02,146.78V147.38M624.48,146.81V147.23M624.92,146.53V147.31M625.38,146.53V147.20M625.83,146.58V147.36M626.27,146.58V147.36M626.73,146.68V147.31M627.17,146.60V147.23M627.62,146.78V147.16M628.08,146.68V147.35M628.52,146.81V147.14M628.98,146.56V147.34M629.42,146.77V147.20M629.88,146.73V147.17M630.33,146.63V147.17M630.77,146.62V147.25M631.23,146.68V147.32M631.67,146.58V147.32M632.12,146.58V147.24M632.58,146.59V147.17M633.02,146.59V147.14M633.48,146.60V147.30M633.92,146.67V147.30M634.38,146.73V147.11M634.83,146.61V147.16M635.27,146.67V147.19M635.73,146.73V147.20" fill="none" stroke="#000" stroke-width="0.9"/>
<line x1="509.40" y1="146.95" x2="636.30" y2="146.95" stroke="#1a1a1a" stroke-width="1.6"/>
<path d="M536.60,129.15 L536.90,164.35" stroke="#000" stroke-width="1.4" fill="none"/>
<text transform="translate(24.50,216.40) scale(1,1.05)" x="0" y="0" font-size="15" font-weight="bold" text-anchor="start" fill="#000" >YGN</text>
<text transform="translate(126.40,215.80) scale(1,1.05)" x="0" y="0" font-size="15" text-anchor="end" fill="#000" >0.024</text>
<path d="M179.22,212.00V213.36M179.68,211.06V213.78M180.12,210.18V214.97M180.57,209.58V214.97M181.03,208.93V213.92M181.47,208.16V216.12M181.93,207.45V214.20M182.38,210.58V218.40M182.82,211.31V220.16M183.28,207.31V215.89M183.72,206.17V215.46M184.18,206.08V219.30M184.62,208.84V215.46M185.07,203.14V215.84M185.53,207.78V217.80M185.97,202.06V215.77M186.43,210.57V216.85M186.88,209.10V218.51M187.32,206.34V213.89M187.78,204.99V222.74M188.22,206.90V220.45M188.68,207.91V219.53M189.12,205.47V220.35M189.57,203.56V216.84M190.03,206.94V216.19M190.47,201.91V223.23M190.93,201.91V222.60M191.38,208.58V215.91M191.82,211.24V220.44M192.28,206.83V224.00M192.72,205.48V221.28M193.18,204.57V221.30M193.62,206.70V217.05M194.07,206.79V217.41M194.53,207.75V219.95M194.97,208.32V217.57M195.43,208.23V214.27M195.88,205.08V217.12M196.32,207.46V220.87M196.78,209.26V220.80M197.22,202.28V219.54M197.68,208.42V219.17M198.12,208.30V221.56M198.57,202.13V216.95M199.03,201.45V215.83M199.47,207.04V217.33M199.93,205.22V221.57M200.38,209.65V221.88M200.82,207.12V215.78M201.28,206.73V218.00M201.72,210.61V221.34M202.18,204.74V218.73M202.62,203.31V216.92M203.07,207.21V218.02M203.53,203.41V217.07M203.97,198.31V220.97M204.43,200.02V219.19M204.88,206.62V223.63M205.32,206.27V218.82M205.78,202.82V216.80M206.22,199.55V220.35M206.68,200.39V221.73M207.12,203.65V220.59M207.57,208.55V219.27M208.03,202.83V223.53M208.47,200.47V214.63M208.93,203.03V218.40M209.38,208.37V221.58M209.82,207.07V217.39M210.28,206.92V214.01M210.72,208.30V219.77M211.18,208.98V221.47M211.62,209.53V218.99M212.07,202.70V215.58M212.53,200.73V218.56M212.97,208.15V217.30M213.43,204.79V220.01M213.88,208.21V216.20M214.32,204.81V223.42M214.78,204.86V215.59M215.22,208.23V216.05M215.68,204.06V222.78M216.12,203.95V216.22M216.57,206.02V215.46M217.03,208.96V216.64M217.47,209.42V218.07M217.93,208.03V221.28M218.38,205.54V220.05M218.82,201.83V218.98M219.28,205.84V218.82M219.72,204.14V218.32M220.18,208.41V217.11M220.62,207.34V220.99M221.07,207.95V217.47M221.53,209.58V216.89M221.97,205.55V217.82M222.43,208.07V219.77M222.88,206.45V222.47M223.32,202.73V218.27M223.78,207.73V217.91M224.22,207.45V222.01M224.68,206.77V214.62M225.12,207.46V216.04M225.57,208.87V217.57M226.03,207.02V218.87M226.47,208.93V220.86M226.93,207.55V214.62M227.38,208.20V215.87M227.82,209.68V217.37M228.28,208.44V215.63M228.72,209.80V221.25M229.18,211.29V215.80M229.62,205.32V212.20M230.07,206.76V215.33M230.53,206.08V217.44M230.97,207.50V217.85M231.43,208.13V219.06M231.88,208.43V217.14M232.32,206.09V219.23M232.78,209.58V216.42M233.22,208.10V218.22M233.68,208.03V212.72M234.12,206.81V214.97M234.57,208.51V215.91M235.03,208.91V218.15M235.47,209.89V220.60M235.93,210.00V219.33M236.38,205.54V219.32M236.82,205.54V214.52M237.28,206.01V219.83M237.72,204.70V218.62M238.18,206.70V216.25M238.62,207.34V219.00M239.07,209.57V218.59M239.53,209.15V219.00M239.97,207.41V218.75M240.43,210.88V219.07M240.88,208.89V218.23M241.32,207.85V214.86M241.78,206.88V217.71M242.22,207.38V215.52M242.68,207.38V217.06M243.12,210.24V217.01M243.57,208.43V215.98M244.03,207.81V221.79M244.48,208.42V218.90M244.93,204.70V217.25M245.38,209.12V216.76M245.82,209.22V217.71M246.28,207.56V217.71M246.73,210.01V216.09M247.18,207.32V219.25M247.62,206.30V218.72M248.07,208.31V217.30M248.53,206.36V220.60M248.98,208.03V219.37M249.43,206.34V216.64M249.88,210.79V217.10M250.32,208.87V216.16M250.78,206.95V214.55M251.23,208.41V214.77M251.68,206.76V219.15M252.12,207.38V215.94M252.57,211.08V216.64M253.03,209.88V217.26M253.48,205.00V214.85M253.93,208.88V216.63M254.38,204.70V219.19M254.82,207.08V219.01M255.28,206.39V220.07M255.73,206.31V217.62M256.18,206.64V217.54M256.62,209.42V219.30M257.07,210.27V220.05M257.52,209.11V216.16M257.98,206.93V215.61M258.43,208.74V212.54M258.88,210.36V220.06M259.32,208.65V220.11M259.77,208.65V214.59M260.23,210.00V214.70M260.68,209.41V217.71M261.12,208.76V217.40M261.57,204.43V217.96M262.02,205.03V217.54M262.48,207.25V216.25M262.93,209.17V217.74M263.38,208.19V217.08M263.82,207.44V215.63M264.27,205.40V217.50M264.73,205.21V217.77M265.18,212.88V217.07M265.62,210.58V216.28M266.07,208.64V214.66M266.52,212.14V213.38M266.98,212.07V212.44M267.43,212.12V212.48M267.88,212.17V212.71M268.32,212.33V212.73M268.77,212.33V212.73M269.23,212.15V212.54M269.68,212.07V212.40M270.12,212.24V212.57M270.57,212.12V212.61M271.48,212.19V212.70M271.93,212.28V212.50M272.38,212.08V212.54" fill="none" stroke="#000" stroke-width="0.9"/>
<line x1="125.80" y1="212.4" x2="272.80" y2="212.4" stroke="#1a1a1a" stroke-width="1.6"/>
<path d="M199.80,187.90 L200.10,234.40" stroke="#000" stroke-width="1.4" fill="none"/>
<text transform="translate(317.50,215.80) scale(1,1.05)" x="0" y="0" font-size="15" text-anchor="end" fill="#000" >0.019</text>
<path d="M369.23,211.89V213.36M369.68,211.89V213.07M370.12,211.05V214.34M370.57,210.89V213.86M371.02,208.19V215.46M371.48,208.00V213.99M371.93,208.36V214.43M372.38,206.47V217.25M372.82,207.36V218.00M373.27,207.57V219.54M373.73,206.59V216.82M374.18,202.31V220.93M374.62,202.31V217.14M375.07,203.92V216.95M375.52,205.18V217.22M375.98,198.79V223.74M376.43,200.88V220.96M376.88,205.18V219.63M377.32,206.70V217.01M377.77,204.85V221.19M378.23,205.53V223.64M378.68,194.97V220.95M379.12,195.45V217.86M379.57,201.33V223.75M380.02,201.29V222.00M380.48,201.01V219.59M380.93,195.46V225.72M381.38,207.00V219.84M381.82,199.95V216.85M382.27,204.64V216.25M382.73,202.66V220.75M383.18,210.55V226.71M383.62,202.46V224.83M384.07,202.46V224.21M384.52,202.24V215.53M384.98,203.34V214.53M385.43,200.75V218.72M385.88,207.07V222.38M386.32,210.34V222.81M386.77,203.96V222.09M387.23,202.19V218.54M387.68,203.62V222.33M388.12,200.92V227.85M388.57,201.58V218.30M389.02,195.23V216.51M389.48,195.08V228.56M389.93,205.83V227.97M390.38,205.83V224.31M390.82,197.05V220.87M391.27,200.15V216.18M391.73,203.20V225.90M392.18,209.56V230.49M392.62,208.94V230.35M393.07,202.48V226.84M393.52,206.99V226.84M393.98,207.29V223.68M394.43,203.34V227.63M394.88,194.90V219.06M395.32,203.92V222.40M395.77,199.59V224.04M396.23,206.16V226.93M396.68,203.62V222.79M397.12,204.83V228.75M397.57,203.36V221.60M398.02,201.47V227.48M398.48,202.97V227.18M398.93,207.76V229.78M399.38,191.44V225.31M399.82,196.44V226.38M400.27,206.29V227.23M400.73,200.19V227.20M401.18,194.11V223.38M401.62,201.38V224.70M402.07,197.76V221.06M402.52,192.53V221.57M402.98,208.94V227.00M403.43,198.29V220.49M403.88,186.32V217.47M404.32,192.07V219.46M404.77,200.02V219.73M405.23,196.14V218.40M405.68,200.76V223.57M406.12,204.96V223.27M406.57,201.27V224.15M407.02,196.35V220.57M407.48,196.06V227.96M407.93,202.00V220.93M408.38,203.80V223.43M408.82,204.06V213.62M409.27,205.25V217.00M409.73,205.01V219.40M410.18,206.30V222.27M410.62,212.59V223.64M411.07,200.71V223.86M411.52,200.71V212.65M411.98,198.72V223.20M412.43,211.42V221.54M412.88,199.28V222.15M413.32,202.42V219.50M413.77,207.63V217.82M414.23,209.10V215.67M414.68,207.78V216.89M415.12,206.85V213.87M415.57,204.11V215.84M416.02,208.34V220.91M416.48,209.09V225.00M416.93,207.11V221.22M417.38,201.55V221.04M417.82,201.83V220.25M418.27,199.55V213.20M418.73,202.39V220.93M419.18,210.92V221.71M419.62,204.61V224.23M420.07,207.01V219.10M420.52,205.99V221.96M420.98,204.35V215.56M421.43,204.08V215.90M421.88,201.97V219.03M422.32,205.76V220.34M422.77,201.60V221.38M423.23,211.87V216.96M423.68,201.87V223.65M424.12,200.20V219.21M424.57,200.85V216.09M425.02,209.71V216.90M425.48,207.96V215.47M425.93,202.29V214.94M426.38,205.68V223.63M426.82,205.44V220.79M427.27,207.07V223.45M427.73,204.61V221.33M428.18,205.09V219.38M428.62,204.93V217.24M429.07,204.96V219.70M429.52,208.33V218.56M429.98,205.71V216.56M430.43,200.40V213.71M430.88,207.46V217.77M431.32,209.53V223.83M431.77,198.03V219.35M432.23,197.89V218.80M432.68,202.74V222.29M433.12,206.37V220.16M433.57,208.35V216.65M434.02,207.86V218.09M434.48,199.70V217.39M434.93,202.85V219.49M435.38,206.76V221.23M435.82,205.16V219.76M436.27,207.96V217.63M436.73,206.18V221.02M437.18,205.17V219.47M437.62,204.32V219.22M438.07,199.79V217.88M438.52,201.83V218.98M438.98,207.99V217.67M439.43,206.97V217.65M439.88,210.47V215.95M440.32,206.95V220.21M440.77,205.70V215.26M441.23,207.82V220.46M441.68,209.40V220.26M442.12,204.54V217.08M442.57,205.89V216.82M443.02,203.14V216.04M443.48,205.40V219.96M443.93,208.19V221.00M444.38,209.81V216.19M444.82,208.87V219.75M445.27,208.63V220.74M445.73,207.79V220.73M446.18,210.41V220.30M446.62,210.72V220.20M447.07,207.31V214.67M447.52,204.70V215.15M447.98,206.17V220.31M448.43,211.52V220.31M448.88,210.32V218.21M449.32,208.85V216.23M449.77,208.12V216.40M450.23,206.27V216.22M450.68,206.50V219.38M451.12,209.91V217.18M451.57,209.59V214.40M452.02,208.82V218.49M452.48,210.80V218.49M452.93,208.27V217.48M453.38,204.70V214.37M453.82,204.70V215.35M454.27,208.41V219.06M454.73,210.76V217.44M455.18,210.62V218.63M455.62,208.75V213.80M456.07,206.77V217.11M456.52,210.31V217.94M456.98,207.43V217.09M457.43,209.16V213.80M457.88,210.28V213.18M458.77,212.18V212.64M459.23,212.35V212.73M460.12,212.23V212.59M460.57,212.20V212.45M461.02,212.17V212.47M461.48,212.21V212.62M461.93,212.13V212.50M462.38,212.22V212.53M462.82,212.34V212.73M463.27,212.19V212.52M463.73,212.12V212.58" fill="none" stroke="#000" stroke-width="0.9"/>
<line x1="316.90" y1="212.4" x2="464.20" y2="212.4" stroke="#1a1a1a" stroke-width="1.6"/>
<path d="M403.40,187.60 L403.70,227.40" stroke="#000" stroke-width="1.4" fill="none"/>
<path d="M392.60,198.40 L392.90,232.90" stroke="#000" stroke-width="1.4" fill="none"/>
<text transform="translate(510.00,215.80) scale(1,1.05)" x="0" y="0" font-size="15" text-anchor="end" fill="#000" >0.020</text>
<path d="M557.12,212.27V212.60M557.58,212.11V212.80M558.02,212.23V212.62M558.48,212.15V212.92M558.92,211.87V212.96M559.38,211.42V212.85M559.83,211.93V212.97M560.27,211.82V212.87M560.73,211.22V213.45M561.17,211.56V213.34M561.62,211.38V213.47M562.08,210.89V213.46M562.52,211.27V214.22M562.98,211.78V215.90M563.42,207.99V216.28M563.88,206.04V215.78M564.33,210.47V216.07M564.77,204.17V215.46M565.23,207.39V218.01M565.67,209.61V215.87M566.12,201.12V221.02M566.58,202.76V215.85M567.02,206.74V219.67M567.48,200.91V220.37M567.92,199.17V220.29M568.38,209.46V223.62M568.83,206.34V217.03M569.27,196.61V221.49M569.73,206.29V218.72M570.17,204.21V224.74M570.62,202.27V215.35M571.08,206.61V221.33M571.52,199.71V227.69M571.98,202.70V224.48M572.42,206.29V222.81M572.88,205.75V218.73M573.33,202.85V221.91M573.77,207.22V216.78M574.23,205.70V218.28M574.67,201.11V223.81M575.12,204.16V219.24M575.58,206.28V222.66M576.02,204.76V222.83M576.48,202.25V223.11M576.92,208.09V222.87M577.38,207.42V220.32M577.83,207.76V214.59M578.27,209.51V215.36M578.73,212.56V216.78M579.17,208.79V218.65M579.62,207.64V213.69M580.08,206.46V214.13M580.52,207.89V219.66M580.98,210.79V217.05M581.42,209.86V215.67M581.88,206.32V217.69M582.33,206.85V216.98M582.77,208.69V218.06M583.23,210.71V216.49M583.67,208.23V213.47M584.12,205.11V213.08M584.58,207.11V215.77M585.02,208.72V216.25M585.48,208.48V216.11M585.92,207.14V218.40M586.38,205.28V218.12M586.83,210.99V216.63M587.27,208.62V217.16M587.73,203.88V216.16M588.17,208.32V215.86M588.62,208.63V215.30M589.08,207.23V216.13M589.52,208.25V217.15M589.98,209.62V219.03M590.42,205.07V216.51M590.88,206.88V215.06M591.33,206.39V217.43M591.77,207.12V215.96M592.23,207.12V215.68M592.67,208.25V216.48M593.12,209.15V219.80M593.58,206.00V218.51M594.02,205.19V218.18M594.48,208.57V215.47M594.92,208.26V215.31M595.38,210.01V215.56M595.83,209.54V216.01M596.27,207.67V215.13M596.73,206.72V216.22M597.17,206.55V219.65M597.62,209.04V215.26M598.08,204.75V215.46M598.52,208.24V215.62M598.98,207.01V214.82M599.42,208.76V215.98M599.88,208.70V215.59M600.33,207.62V214.86M600.77,207.17V213.19M601.23,211.45V215.39M601.67,209.92V218.18M602.12,209.36V215.58M602.58,207.75V215.38M603.02,206.94V215.72M603.48,205.32V213.88M603.92,207.27V214.49M604.38,208.25V216.88M604.83,207.51V215.76M605.27,210.68V218.34M605.73,207.03V217.51M606.17,206.96V215.67M606.62,210.54V215.17M607.08,208.56V216.31M607.52,207.57V215.34M607.98,211.38V215.34M608.42,208.72V216.42M608.88,205.16V213.98M609.33,208.72V215.44M609.77,208.64V217.10M610.23,208.08V214.27M610.67,209.61V218.37M611.12,207.94V216.74M611.58,206.41V214.35M612.02,206.09V216.47M612.48,206.04V217.28M612.92,206.74V212.65M613.38,205.85V217.12M613.83,210.39V218.51M614.27,210.25V216.97M614.73,207.41V214.45M615.17,208.23V217.60M615.62,209.24V214.94M616.08,208.28V213.96M616.52,207.41V215.36M616.98,206.90V216.93M617.42,209.45V214.54M617.88,208.19V214.75M618.33,209.66V214.96M618.77,211.25V217.29M619.23,209.86V216.49M619.67,208.36V214.57M620.12,206.68V217.07M620.58,208.35V217.39M621.02,206.94V214.80M621.48,205.29V214.76M621.92,212.44V215.15M622.38,209.16V216.65M622.83,210.48V214.31M623.27,208.02V215.73M623.73,207.92V215.10M624.17,208.98V216.46M624.62,209.45V218.99M625.08,208.93V216.35M625.52,205.30V211.97M625.98,209.04V214.70M626.42,210.96V215.65M626.88,208.33V216.94M627.33,210.52V218.82M627.77,207.16V218.79M628.23,206.25V217.02M628.67,207.80V214.23M629.12,211.31V215.52M629.58,208.38V218.46M630.02,207.92V215.25M630.48,207.87V213.12M630.92,209.53V216.06M631.38,209.50V217.04M631.83,208.53V215.13M632.27,207.46V217.13M632.73,210.62V217.36M633.17,209.61V218.42M633.62,207.79V213.23M634.08,206.98V215.13M634.52,211.26V214.61M634.98,208.26V216.97M635.42,209.53V216.03M635.88,209.61V216.01M636.33,209.61V214.22M636.77,208.47V213.51M637.23,209.84V213.37M637.67,211.18V216.34M638.12,211.59V215.18M638.58,209.06V214.84M639.02,206.85V215.81M639.48,207.35V216.32M639.92,206.36V215.16M640.38,208.57V216.10M640.83,209.66V215.19M641.27,209.74V217.17M641.73,211.22V214.33M642.17,209.13V216.67M642.62,210.81V216.41M643.08,209.70V217.39M643.52,209.34V213.60M643.98,206.64V213.96M644.42,209.19V215.05M644.88,210.80V216.56M645.33,209.98V217.90M645.77,207.15V216.95M646.23,210.35V217.90M646.67,210.75V214.07M647.12,207.97V213.39M647.58,208.61V214.40M648.02,209.04V215.22M648.48,210.79V213.44M648.92,212.16V212.56M649.38,212.22V212.73M649.83,212.29V212.68M650.27,212.34V212.65M650.73,212.14V212.63M651.17,212.12V212.53M651.62,212.12V212.51M652.08,212.26V212.53M652.52,212.26V212.50M652.98,212.17V212.56M653.42,212.32V212.63M653.88,212.35V212.63M654.33,212.34V212.61M654.77,212.23V212.55M655.67,212.07V212.51" fill="none" stroke="#000" stroke-width="0.9"/>
<line x1="509.40" y1="212.4" x2="656.30" y2="212.4" stroke="#1a1a1a" stroke-width="1.6"/>
<path d="M568.40,186.10 L568.70,227.40" stroke="#000" stroke-width="1.4" fill="none"/>
<text transform="translate(24.50,283.00) scale(1,1.05)" x="0" y="0" font-size="15" font-weight="bold" text-anchor="start" fill="#000" >KTN</text>
<text transform="translate(126.40,281.85) scale(1,1.05)" x="0" y="0" font-size="15" text-anchor="end" fill="#000" >0.011</text>
<path d="M141.57,278.37V278.59M142.03,278.29V278.61M142.47,278.29V278.64M142.93,278.31V278.73M143.38,278.09V278.70M143.82,277.91V278.50M144.28,278.05V278.55M144.72,277.88V278.90M145.18,277.93V278.90M145.62,277.75V279.05M146.07,278.19V279.29M146.53,278.03V278.68M146.97,278.12V278.64M147.43,278.16V279.04M147.88,277.43V279.14M148.32,277.25V278.92M148.78,277.59V278.68M149.22,278.16V279.73M149.68,277.94V279.60M150.12,277.90V279.18M150.57,277.59V279.38M151.03,277.76V279.47M151.47,277.93V279.44M151.93,276.86V279.29M152.38,277.17V278.27M152.82,277.95V279.01M153.28,277.69V279.82M153.72,278.00V279.01M154.18,276.98V279.31M154.62,278.33V279.33M155.07,277.78V279.24M155.53,277.15V279.79M155.97,277.28V279.81M156.43,277.20V280.37M156.88,277.68V279.93M157.32,277.36V279.48M157.78,277.25V279.25M158.22,277.16V279.23M158.68,277.20V280.03M159.12,277.29V279.39M159.57,277.09V279.16M160.03,277.75V279.64M160.47,277.79V279.22M160.93,276.93V279.87M161.38,277.10V280.55M161.82,277.16V279.65M162.28,276.66V279.56M162.72,277.25V279.85M163.18,276.41V279.63M163.62,276.30V279.78M164.07,277.12V279.92M164.53,276.98V280.48M164.97,277.52V279.55M165.43,277.24V279.74M165.88,277.25V279.85M166.32,276.64V279.41M166.78,276.17V279.84M167.22,275.88V280.86M167.68,277.34V280.73M168.12,277.43V279.94M168.57,276.59V280.47M169.03,277.46V280.47M169.47,276.48V279.69M169.93,276.48V279.72M170.38,277.23V279.72M170.82,276.69V280.23M171.28,277.28V280.74M171.72,277.23V279.56M172.18,275.53V280.27M172.62,277.23V280.03M173.07,276.39V281.24M173.53,276.61V280.30M173.97,275.34V280.90M174.43,275.04V281.12M174.88,278.52V281.02M175.32,278.55V281.55M175.78,276.06V280.64M176.22,274.89V279.79M176.68,275.58V281.09M177.12,276.64V279.18M177.57,275.59V281.93M178.03,277.21V282.13M178.47,275.76V281.97M178.93,274.68V280.58M179.38,276.28V279.77M179.82,276.62V280.03M180.28,276.32V281.65M180.72,276.10V281.68M181.18,276.39V281.66M181.62,276.57V280.70M182.07,275.21V280.30M182.53,276.19V282.01M182.97,276.55V281.51M183.43,274.98V280.77M183.88,269.83V280.33M184.32,270.90V287.16M184.78,274.02V288.23M185.22,269.52V283.27M185.68,269.42V287.74M186.12,263.57V287.05M186.57,265.93V286.98M187.03,269.64V285.81M187.47,265.35V286.59M187.93,268.87V281.58M188.38,274.60V285.07M188.82,269.66V286.22M189.28,268.90V288.25M189.72,265.55V286.71M190.18,262.41V283.15M190.62,269.15V293.08M191.07,269.15V298.25M191.53,265.44V278.90M191.97,269.39V298.07M192.43,265.30V297.41M192.88,257.25V282.45M193.32,257.25V284.11M193.78,265.78V289.73M194.22,266.70V299.44M194.68,269.83V299.25M195.12,273.06V288.39M195.57,261.86V290.11M196.03,264.86V288.84M196.47,266.51V292.42M196.93,257.94V290.98M197.38,275.72V294.08M197.82,267.01V293.64M198.28,265.33V292.30M198.72,268.70V286.10M199.18,266.47V293.67M199.62,263.89V289.58M200.07,272.74V289.58M200.53,270.16V282.86M200.97,268.93V287.07M201.43,270.10V293.07M201.88,270.86V297.94M202.32,269.39V285.47M202.78,260.08V288.43M203.22,260.06V283.39M203.68,259.85V284.66M204.12,268.59V296.96M204.57,272.67V296.96M205.03,275.93V293.60M205.48,270.64V292.26M205.93,267.29V290.61M206.38,266.16V289.25M206.82,263.60V286.51M207.28,267.91V281.41M207.73,266.76V282.56M208.18,268.24V294.22M208.62,274.31V285.63M209.07,265.29V291.48M209.53,274.28V294.10M209.98,272.13V285.27M210.43,265.20V283.95M210.88,266.88V280.76M211.32,266.85V292.52M211.78,267.32V292.36M212.23,270.07V292.48M212.68,264.14V287.44M213.12,266.95V286.46M213.57,265.42V286.13M214.03,267.63V289.40M214.48,274.18V292.27M214.93,271.21V289.81M215.38,269.66V289.79M215.82,273.59V287.77M216.28,269.69V285.52M216.73,266.70V284.57M217.18,269.55V282.95M217.62,267.92V280.53M218.07,273.01V286.24M218.53,277.01V291.51M218.98,271.63V283.02M219.43,268.91V279.25M219.88,271.64V286.82M220.32,273.69V286.79M220.78,273.99V288.38M221.23,271.88V286.08M221.68,270.89V286.81M222.12,267.49V282.99M222.57,272.95V280.66M223.03,275.74V285.46M223.48,270.91V285.46M223.93,270.91V282.94M224.38,273.24V287.43M224.82,276.69V285.60M225.28,270.21V282.68M225.73,266.50V282.04M226.18,272.02V289.45M226.62,273.56V286.37M227.07,269.33V281.75M227.53,267.06V286.48M227.98,273.65V288.95M228.43,275.99V284.73M228.88,272.89V286.43M229.32,271.40V285.11M229.78,274.42V286.23M230.23,274.42V285.90M230.68,275.14V284.14M231.12,267.61V285.48M231.57,271.90V281.50M232.03,271.60V284.12M232.48,268.61V281.89M232.93,269.37V280.41M233.38,275.81V284.06M233.82,273.66V284.84M234.28,272.42V284.59M234.73,271.16V284.61M235.18,268.28V284.90M235.62,270.57V281.77M236.07,272.30V283.71M236.53,270.80V283.96M236.98,273.82V287.34M237.43,274.89V281.32M237.88,273.38V282.67M238.32,273.77V283.74M238.78,274.21V282.56M239.23,274.21V286.24M239.68,273.59V283.52M240.12,274.77V284.57M240.57,271.08V282.85M241.03,270.86V282.06M241.48,273.13V282.94M241.93,272.91V286.22M242.38,273.28V286.60M242.82,276.78V285.13M243.28,274.73V283.37M243.73,272.75V281.30M244.18,272.16V282.22M244.62,276.00V279.31M245.07,272.98V281.00M245.53,275.99V282.95M245.98,276.29V286.18M246.43,274.97V281.22M246.88,274.09V282.40M247.32,274.85V282.10M247.78,275.36V282.94M248.23,270.81V282.78M248.68,272.05V284.86M249.12,276.22V281.64M249.57,278.07V282.81M250.03,274.25V281.25M250.48,274.99V281.95M250.93,274.13V284.69M251.38,272.18V284.35M251.82,271.98V281.73M252.28,275.34V281.71M252.73,276.37V282.93M253.18,272.00V281.98M253.62,273.84V280.33M254.07,274.60V283.92M254.53,277.59V279.77M254.98,278.39V278.71M255.43,278.45V278.70M255.88,278.31V278.67M256.32,278.26V278.63M257.23,278.28V278.62M257.68,278.22V278.61M258.12,278.23V278.51M258.57,278.24V278.57M259.48,278.22V278.62M259.93,278.27V278.72M260.38,278.32V278.69M260.82,278.24V278.51M261.27,278.24V278.62M261.73,278.26V278.67M262.18,278.39V278.63M262.62,278.29V278.63M263.07,278.35V278.56M263.52,278.23V278.47M263.98,278.25V278.78M264.43,278.35V278.75M264.88,278.12V278.75M265.32,278.29V278.57M265.77,278.29V278.76M266.23,278.35V278.76M266.68,278.12V278.57M267.12,278.18V278.48M267.57,278.24V278.55M268.02,278.35V278.66M268.48,278.35V278.68M268.93,278.32V278.69M269.38,278.29V278.56M269.83,278.25V278.59M270.27,278.38V278.64M270.73,278.27V278.69M271.18,278.20V278.60M271.62,278.19V278.57M272.08,278.12V278.58M272.52,278.23V278.58" fill="none" stroke="#000" stroke-width="0.9"/>
<line x1="125.80" y1="278.45" x2="272.80" y2="278.45" stroke="#1a1a1a" stroke-width="1.6"/>
<text transform="translate(317.50,281.85) scale(1,1.05)" x="0" y="0" font-size="15" text-anchor="end" fill="#000" >-0.015</text>
<path d="M335.48,278.36V278.63M335.93,278.25V278.52M336.38,278.20V278.49M336.82,278.31V278.53M337.27,278.33V278.69M337.73,278.16V278.71M338.18,278.34V278.69M338.62,278.20V278.69M339.07,278.10V278.63M339.52,278.20V278.59M339.98,278.26V278.63M340.43,278.18V278.68M340.88,278.23V278.84M341.32,278.27V279.05M341.77,277.97V278.83M342.23,277.85V278.56M342.68,277.95V278.73M343.12,278.21V279.03M343.57,278.07V279.00M344.02,278.06V278.67M344.48,277.78V278.83M344.93,277.57V279.25M345.38,278.17V279.28M345.82,277.78V279.24M346.27,277.58V278.75M346.73,278.28V278.92M347.18,277.86V279.39M347.62,277.49V278.84M348.07,277.64V278.69M348.52,277.99V279.14M348.98,277.91V279.58M349.43,278.16V279.39M349.88,277.62V279.55M350.32,277.60V278.80M350.77,277.34V279.79M351.23,277.09V279.79M351.68,277.88V278.77M352.12,278.00V279.14M352.57,277.69V279.17M353.02,277.14V279.88M353.48,278.13V279.26M353.93,277.86V279.76M354.38,277.61V279.90M354.82,277.82V278.73M355.27,277.31V279.43M355.73,277.29V279.55M356.18,277.75V279.94M356.62,277.97V279.60M357.07,277.90V279.19M357.52,277.48V279.37M357.98,277.58V279.67M358.43,277.05V279.07M358.88,276.39V278.70M359.32,277.39V279.60M359.77,277.94V280.35M360.23,276.30V279.65M360.68,277.45V279.72M361.12,277.96V279.60M361.57,276.59V280.77M362.02,277.23V279.59M362.48,276.13V280.26M362.93,276.39V278.44M363.38,276.04V279.78M363.82,277.62V281.08M364.27,276.57V279.91M364.73,276.13V278.40M365.18,276.47V279.30M365.62,278.12V280.37M366.07,277.62V280.52M366.52,275.98V280.88M366.98,275.97V279.24M367.43,276.01V280.90M367.88,276.91V279.99M368.32,276.70V280.54M368.77,276.54V280.01M369.23,276.68V281.19M369.68,277.79V282.31M370.12,276.11V279.13M370.57,274.39V279.22M371.02,275.82V281.76M371.48,278.35V281.52M371.93,277.31V281.30M372.38,276.58V282.16M372.82,275.91V281.07M373.27,273.92V279.39M373.73,276.24V280.23M374.18,275.94V280.18M374.62,275.94V283.65M375.07,276.60V284.24M375.52,270.90V285.17M375.98,261.82V280.97M376.43,264.92V292.93M376.88,270.23V292.93M377.32,267.88V290.34M377.77,267.21V297.45M378.23,263.25V292.13M378.68,267.88V287.71M379.12,269.05V298.04M379.57,265.99V285.51M380.02,262.16V288.49M380.48,253.29V294.64M380.93,267.00V287.42M381.38,252.09V301.57M381.82,269.87V295.63M382.27,268.84V295.16M382.73,262.94V295.16M383.18,265.92V294.57M383.62,254.66V296.05M384.07,250.24V293.50M384.52,268.80V297.48M384.98,257.10V296.15M385.43,257.66V298.50M385.88,250.85V299.49M386.32,257.06V284.61M386.77,260.39V284.46M387.23,271.83V308.04M387.68,259.07V302.66M388.12,257.37V291.95M388.57,259.74V297.76M389.02,261.60V291.84M389.48,271.89V300.05M389.93,264.29V296.00M390.38,257.91V285.58M390.82,269.17V296.97M391.27,273.74V296.28M391.73,255.04V290.19M392.18,255.04V296.43M392.62,272.71V292.80M393.07,265.81V286.08M393.52,272.26V289.17M393.98,275.22V288.30M394.43,267.97V286.11M394.88,263.16V288.83M395.32,257.66V284.41M395.77,271.15V279.61M396.23,277.26V292.57M396.68,272.85V292.81M397.12,266.90V285.71M397.57,268.81V287.00M398.02,269.26V293.60M398.48,274.86V288.75M398.93,271.16V290.89M399.38,266.34V285.54M399.82,267.37V285.87M400.27,265.58V285.97M400.73,275.02V287.18M401.18,281.44V287.98M401.62,270.70V288.27M402.07,265.27V280.15M402.52,262.29V285.52M402.98,273.41V287.48M403.43,267.17V285.29M403.88,267.81V286.57M404.32,268.42V288.13M404.77,272.91V287.38M405.23,262.57V289.48M405.68,267.41V292.04M406.12,272.97V289.96M406.57,261.20V281.96M407.02,261.29V292.81M407.48,269.94V290.97M407.93,262.45V283.55M408.38,271.54V285.79M408.82,278.42V295.31M409.27,269.73V284.71M409.73,261.90V284.90M410.18,268.50V281.79M410.62,275.88V283.61M411.07,275.43V288.32M411.52,272.07V293.03M411.98,270.34V286.98M412.43,271.28V285.51M412.88,269.63V283.85M413.32,265.40V282.39M413.77,265.40V287.88M414.23,269.74V282.56M414.68,272.62V291.77M415.12,270.23V291.77M415.57,268.14V280.34M416.02,268.14V283.17M416.48,272.46V289.74M416.93,271.73V291.98M417.38,266.95V287.28M417.82,268.57V280.64M418.27,263.55V290.43M418.73,267.92V289.10M419.18,270.66V284.88M419.62,269.31V287.06M420.07,268.32V287.96M420.52,270.35V287.96M420.98,269.87V278.90M421.43,268.37V285.64M421.88,272.13V284.62M422.32,274.83V282.63M422.77,268.13V282.06M423.23,268.33V282.77M423.68,271.98V287.58M424.12,277.00V288.49M424.57,271.28V285.46M425.02,268.80V276.77M425.48,272.14V284.71M425.93,273.34V283.48M426.38,270.73V279.87M426.82,268.95V284.63M427.27,272.32V285.93M427.73,274.90V285.93M428.18,269.50V280.33M428.62,270.81V280.52M429.07,274.29V282.93M429.52,274.29V283.08M429.98,273.34V283.99M430.43,270.29V281.75M430.88,269.67V282.85M431.32,275.61V280.48M431.77,273.16V285.59M432.23,272.48V282.23M432.68,274.78V283.84M433.12,273.98V283.09M433.57,273.24V282.68M434.02,275.81V283.47M434.48,270.57V282.41M434.93,270.94V280.36M435.38,274.17V281.23M435.82,274.28V284.78M436.27,271.48V282.68M436.73,271.82V283.55M437.18,273.97V283.55M437.62,272.32V282.72M438.07,273.03V282.88M438.52,274.19V282.45M438.98,276.86V284.36M439.43,274.22V281.89M439.88,274.05V279.60M440.32,274.90V281.05M440.77,274.95V279.97M441.23,274.35V280.64M441.68,274.03V283.39M442.12,275.52V280.79M442.57,276.02V283.57M443.02,276.97V283.34M443.48,274.33V282.48M443.93,275.49V280.83M444.38,276.98V280.97M444.82,274.10V281.34M445.27,274.24V280.58M445.73,276.96V278.78M446.18,278.35V278.57M446.62,278.23V278.70M447.07,278.39V278.70M447.52,278.24V278.68M447.98,278.24V278.62M448.43,278.31V278.68M448.88,278.27V278.73M449.32,278.26V278.73M449.77,278.25V278.56M450.23,278.23V278.69M450.68,278.27V278.61M451.12,278.22V278.57M451.57,278.33V278.58M452.02,278.31V278.67M452.48,278.12V278.65M452.93,278.12V278.72M453.38,278.29V278.64M453.82,278.30V278.77M454.27,278.22V278.54M454.73,278.16V278.40M455.18,278.23V278.63M455.62,278.46V278.68M456.07,278.38V278.66M456.52,278.28V278.67M456.98,278.29V278.56M457.43,278.20V278.47M457.88,278.25V278.66M458.32,278.21V278.62M458.77,278.30V278.58M459.23,278.30V278.67M459.68,278.24V278.61M460.12,278.12V278.71M460.57,278.36V278.66M461.02,278.31V278.73M461.48,278.12V278.73M461.93,278.28V278.59M462.38,278.31V278.52M462.83,278.29V278.71M463.27,278.36V278.62M463.73,278.21V278.47" fill="none" stroke="#000" stroke-width="0.9"/>
<line x1="316.90" y1="278.45" x2="464.20" y2="278.45" stroke="#1a1a1a" stroke-width="1.6"/>
<path d="M385.50,249.45 L385.80,300.45" stroke="#000" stroke-width="1.4" fill="none"/>
<path d="M384.00,256.45 L384.30,307.45" stroke="#000" stroke-width="1.4" fill="none"/>
<text transform="translate(510.00,281.85) scale(1,1.05)" x="0" y="0" font-size="15" text-anchor="end" fill="#000" >0.007</text>
<path d="M537.67,278.23V278.52M538.12,278.19V278.55M538.58,278.18V278.74M539.02,278.19V278.87M539.48,278.12V278.97M539.92,278.14V278.50M540.38,277.48V279.47M540.83,277.90V278.99M541.27,277.54V278.57M541.73,277.55V279.27M542.17,278.24V279.93M542.62,277.75V279.10M543.08,277.31V279.85M543.52,277.89V278.93M543.98,277.12V279.17M544.42,278.37V278.97M544.88,277.43V280.30M545.33,277.86V279.59M545.77,277.77V279.51M546.23,276.92V278.95M546.67,277.58V279.86M547.12,276.95V279.86M547.58,277.42V280.07M548.02,277.63V279.79M548.48,277.16V279.45M548.92,276.84V279.34M549.38,277.93V280.56M549.83,277.38V280.10M550.27,276.62V278.55M550.73,276.94V279.72M551.17,276.72V279.21M551.62,277.79V279.74M552.08,277.18V279.70M552.52,276.68V280.91M552.98,277.70V279.43M553.42,277.83V279.81M553.88,277.87V279.07M554.33,277.33V279.43M554.77,276.74V279.11M555.23,275.68V280.65M555.67,276.40V280.86M556.12,278.66V281.10M556.58,275.85V278.87M557.02,275.85V279.24M557.48,277.83V280.51M557.92,277.04V279.29M558.38,276.87V279.86M558.83,277.33V280.26M559.27,275.91V280.76M559.73,277.26V281.41M560.17,278.02V280.00M560.62,276.78V280.78M561.08,276.52V279.68M561.52,276.80V280.86M561.98,276.82V278.90M562.42,275.89V279.74M562.88,276.01V279.96M563.33,277.48V281.45M563.77,277.31V281.70M564.23,277.28V282.56M564.67,274.60V282.07M565.12,275.64V279.16M565.58,274.98V280.90M566.02,276.42V282.77M566.48,276.28V282.77M566.92,276.55V282.62M567.38,272.75V283.28M567.83,270.37V285.58M568.27,269.72V283.90M568.73,274.95V285.01M569.17,273.39V288.16M569.62,274.99V285.66M570.08,276.48V288.29M570.52,268.31V282.49M570.98,267.22V280.04M571.42,272.46V287.20M571.88,273.48V288.37M572.33,276.62V284.21M572.77,272.33V284.91M573.23,268.62V289.04M573.67,272.26V287.91M574.12,271.11V284.24M574.58,271.35V283.85M575.02,272.88V286.97M575.48,270.81V286.86M575.92,270.16V283.93M576.38,267.53V284.66M576.83,271.68V291.90M577.27,272.96V286.42M577.73,267.82V279.63M578.17,270.36V291.52M578.62,274.03V288.48M579.08,271.64V282.22M579.52,268.94V293.11M579.98,272.27V285.93M580.42,269.78V279.25M580.88,271.11V283.71M581.33,276.58V284.59M581.77,271.51V287.27M582.23,273.00V293.23M582.67,268.70V289.09M583.12,270.97V284.38M583.58,271.45V281.01M584.02,274.47V289.82M584.48,276.35V285.05M584.92,269.11V280.84M585.38,270.45V274.18M585.83,266.43V284.33M586.27,274.76V291.58M586.73,274.76V291.43M587.17,274.60V288.04M587.62,273.67V285.29M588.08,266.49V283.99M588.52,271.01V281.09M588.98,271.06V287.07M589.42,269.54V286.80M589.88,270.14V283.65M590.33,271.88V283.65M590.77,272.81V286.79M591.23,272.09V284.73M591.67,270.71V286.08M592.12,271.11V285.00M592.58,271.42V289.12M593.02,268.51V284.38M593.48,268.51V283.89M593.92,271.30V285.30M594.38,271.52V285.30M594.83,272.27V280.04M595.27,273.87V284.13M595.73,275.16V286.99M596.17,274.78V284.26M596.62,274.72V281.53M597.08,273.64V283.44M597.52,276.55V285.35M597.98,271.04V284.52M598.42,271.78V279.31M598.88,270.46V282.14M599.33,270.09V287.29M599.77,274.32V283.58M600.23,272.39V284.63M600.67,276.90V283.38M601.12,275.09V282.06M601.58,276.00V282.43M602.02,272.63V282.76M602.48,271.10V283.82M602.92,273.09V281.64M603.38,273.79V282.35M603.83,271.73V281.39M604.27,274.64V286.21M604.73,273.21V283.76M605.17,269.64V283.29M605.62,275.68V283.99M606.08,273.44V286.87M606.52,273.44V282.49M606.98,271.93V281.06M607.42,272.06V284.65M607.88,273.28V286.66M608.33,273.87V281.97M608.77,272.63V282.99M609.23,273.84V286.33M609.67,275.97V286.03M610.12,270.79V282.26M610.58,273.16V279.19M611.02,271.50V282.62M611.48,275.87V285.13M611.92,277.57V284.78M612.38,274.59V281.37M612.83,275.02V281.48M613.27,275.23V281.20M613.73,273.60V279.93M614.17,273.98V283.58M614.62,274.44V280.95M615.08,274.31V280.85M615.52,277.77V285.21M615.98,274.62V284.32M616.42,271.78V280.01M616.88,275.28V281.51M617.33,272.78V280.17M617.77,272.88V282.95M618.23,277.28V283.16M618.67,275.48V281.76M619.12,274.10V278.89M619.58,275.58V281.17M620.02,277.51V283.05M620.48,276.54V282.15M620.92,274.05V279.17M621.38,275.07V280.49M621.83,276.01V282.15M622.27,276.25V284.21M622.73,276.65V282.15M623.17,275.43V281.42M623.62,274.86V281.93M624.08,274.55V282.07M624.52,275.02V282.19M624.98,274.68V282.19M625.42,274.92V280.36M625.88,274.06V283.73M626.33,275.70V282.90M626.77,277.51V282.90M627.23,275.24V280.99M627.67,273.96V279.51M628.12,276.12V280.16M628.58,273.18V281.34M629.02,273.67V282.28M629.48,277.44V282.09M629.92,274.07V282.67M630.38,277.12V281.75M630.83,275.17V279.95M631.27,273.06V283.85M631.73,276.01V283.61M632.17,275.60V280.98M632.62,274.11V279.89M633.08,276.08V281.34M633.52,273.75V282.97M633.98,276.82V283.37M634.42,276.03V281.74M634.88,274.97V280.83M635.33,274.93V278.85M635.77,276.24V282.67M636.23,277.17V282.67M636.67,275.25V280.43M637.12,275.25V282.82M637.58,277.57V280.19M638.02,278.18V279.23M638.48,278.18V278.78M638.92,278.30V278.58M639.38,278.27V278.55M639.83,278.22V278.66M640.27,278.20V278.63M640.73,278.36V278.70M641.17,278.42V278.68M641.62,278.18V278.65M642.08,278.30V278.66M642.52,278.32V278.60M642.98,278.29V278.65M643.42,278.24V278.49M643.88,278.14V278.55M644.33,278.30V278.63M644.77,278.26V278.63M645.23,278.15V278.67M645.67,278.15V278.73M646.12,278.28V278.77M646.58,278.28V278.66M647.02,278.30V278.65M647.48,278.24V278.57M647.92,278.18V278.58M648.38,278.38V278.58M650.17,278.40V278.62M650.62,278.34V278.69M651.52,278.24V278.66M651.98,278.16V278.74M652.42,278.24V278.70M652.88,278.27V278.56M653.77,278.20V278.66M654.23,278.12V278.69M654.67,278.28V278.66M655.12,278.12V278.48M655.58,278.12V278.66M656.02,278.38V278.71" fill="none" stroke="#000" stroke-width="0.9"/>
<line x1="509.40" y1="278.45" x2="656.30" y2="278.45" stroke="#1a1a1a" stroke-width="1.6"/>
<text transform="translate(24.50,348.30) scale(1,1.05)" x="0" y="0" font-size="15" font-weight="bold" text-anchor="start" fill="#000" >CHTO</text>
<text transform="translate(126.40,347.80) scale(1,1.05)" x="0" y="0" font-size="15" text-anchor="end" fill="#000" >0.009</text>
<path d="M162.68,344.21V344.63M163.12,344.18V344.53M163.57,344.17V344.71M164.03,344.09V344.71M164.47,344.20V344.52M164.93,344.28V344.65M165.38,343.76V344.72M165.82,343.67V344.92M166.28,343.47V344.91M166.72,343.95V345.20M167.18,343.59V345.30M167.62,343.66V345.30M168.07,343.72V345.49M168.53,343.49V345.88M168.97,343.69V345.40M169.43,343.26V345.64M169.88,342.89V345.64M170.32,342.80V344.61M170.78,342.82V345.16M171.22,343.58V345.79M171.68,343.55V345.19M172.12,342.93V345.27M172.57,343.71V346.05M173.03,342.38V345.61M173.47,342.29V345.29M173.93,342.97V346.24M174.38,343.08V346.26M174.82,343.23V345.84M175.28,343.61V345.40M175.72,342.98V345.59M176.18,341.99V346.34M176.62,342.71V345.73M177.07,343.72V345.66M177.53,343.46V345.78M177.97,342.83V345.65M178.43,343.10V345.29M178.88,341.74V346.62M179.32,342.43V345.64M179.78,343.01V345.64M180.22,343.06V346.09M180.68,342.51V346.35M181.12,341.60V345.75M181.57,343.22V346.14M182.03,344.39V346.01M182.47,341.90V345.71M182.93,341.93V345.74M183.38,343.47V345.94M183.82,343.09V346.53M184.28,342.03V344.69M184.72,342.22V345.42M185.18,344.46V346.49M185.62,344.18V347.08M186.07,343.71V346.72M186.53,342.53V345.11M186.97,341.85V346.36M187.43,342.61V345.50M187.88,342.50V345.72M188.32,343.31V345.62M188.78,343.80V346.22M189.22,341.83V345.66M189.68,342.75V346.75M190.12,343.95V348.42M190.57,340.04V347.38M191.03,338.11V347.41M191.47,338.82V353.34M191.93,341.07V351.56M192.38,339.01V351.15M192.82,331.43V355.26M193.28,335.83V355.26M193.72,331.32V358.80M194.18,335.96V350.59M194.62,331.43V347.18M195.07,333.67V358.59M195.53,340.38V364.69M195.97,332.17V358.99M196.43,328.09V351.95M196.88,325.99V350.96M197.32,326.57V351.63M197.78,329.51V360.98M198.22,342.03V358.98M198.68,334.82V357.72M199.12,330.68V354.95M199.57,338.14V353.38M200.03,328.28V356.71M200.47,333.18V348.86M200.93,335.56V362.50M201.38,336.89V357.65M201.82,332.60V353.43M202.28,339.02V354.01M202.72,333.95V351.79M203.18,333.95V349.67M203.62,337.35V359.49M204.07,345.92V358.15M204.53,330.70V347.73M204.97,330.70V345.75M205.43,334.13V351.38M205.88,334.50V349.90M206.32,341.78V352.26M206.78,341.29V355.35M207.22,339.28V350.87M207.68,340.92V354.28M208.12,334.46V349.84M208.57,335.66V349.07M209.03,342.35V350.86M209.47,339.87V349.20M209.93,336.69V348.10M210.38,335.77V352.89M210.82,344.08V351.93M211.28,341.62V346.55M211.72,340.53V347.73M212.18,339.40V348.67M212.62,337.88V348.13M213.07,339.61V349.85M213.53,341.43V349.32M213.97,342.79V347.95M214.43,339.33V350.06M214.88,337.68V350.47M215.32,341.53V346.40M215.78,340.91V349.71M216.22,342.65V348.62M216.68,341.34V346.87M217.12,339.97V346.73M217.57,340.92V346.14M218.03,340.67V347.67M218.47,342.22V347.59M218.93,342.08V346.56M219.38,343.03V349.49M219.82,341.79V348.72M220.28,339.53V345.70M220.72,340.74V344.76M221.18,342.26V346.93M221.62,342.73V346.80M222.07,343.83V346.40M222.53,342.57V347.92M222.97,341.30V347.80M223.43,342.52V348.78M223.88,342.09V346.72M224.32,340.58V347.35M224.78,342.57V345.26M225.22,342.60V345.20M225.68,342.76V346.26M226.12,343.48V347.63M226.57,343.17V347.36M227.03,342.03V346.49M227.48,342.19V347.53M227.93,340.76V346.22M228.38,341.88V345.68M228.82,343.37V346.01M229.28,341.86V345.88M229.73,342.52V345.08M230.18,342.69V347.56M230.62,342.33V346.52M231.07,342.14V346.59M231.53,342.35V345.91M231.98,342.25V346.57M232.43,342.20V346.17M232.88,343.67V346.11M233.32,342.70V345.67M233.78,342.98V344.42M234.23,342.96V346.10M234.68,342.78V345.65M235.12,342.26V347.00M235.57,342.02V346.33M236.03,342.01V345.86M236.48,342.01V346.51M236.93,342.80V345.63M237.38,343.47V345.93M237.82,344.20V346.18M238.28,342.30V344.41M238.73,341.61V344.89M239.18,342.18V346.09M239.62,342.86V346.66M240.07,343.24V346.89M240.53,343.99V346.89M240.98,343.81V346.11M241.43,343.11V345.45M241.88,341.74V345.23M242.32,342.39V345.41M242.78,343.53V345.36M243.23,343.37V344.93M243.68,342.92V346.82M244.12,344.18V346.56M244.57,342.90V345.61M245.03,342.30V346.16M245.48,343.38V346.07M245.93,342.09V346.75M246.38,342.75V346.01M246.82,343.27V345.75M247.28,342.72V345.75M247.73,343.54V346.91M248.18,342.51V345.88M248.62,342.86V344.71M249.07,344.12V346.49M249.53,342.35V345.82M249.98,342.12V344.43M250.43,342.18V345.47M250.88,343.49V346.58M251.32,343.60V345.96M251.78,343.87V346.00M252.23,343.79V345.35M252.68,342.49V345.35M253.12,342.48V344.87M253.57,343.38V345.53M254.03,343.71V346.63M254.48,343.74V346.61M254.93,343.06V345.39M255.38,343.48V345.78M255.82,342.96V345.78M256.27,343.50V345.66M256.73,343.30V345.66M257.18,342.58V344.70M257.62,342.90V345.55M258.07,342.90V345.92M258.52,343.29V345.32M258.98,343.53V345.17M259.43,343.92V346.07M259.88,343.33V345.10M260.32,344.17V344.62M260.77,344.26V344.56M261.23,344.17V344.58M261.68,344.26V344.54M262.12,344.18V344.55M262.57,344.08V344.50M263.02,344.29V344.65M263.48,344.33V344.63M263.93,344.20V344.65M264.38,344.25V344.63M264.82,344.20V344.51M265.27,344.07V344.67M265.73,344.17V344.67M266.18,344.29V344.54M266.62,344.31V344.51M267.07,344.24V344.60M267.52,344.13V344.60M267.98,344.24V344.70M268.43,344.24V344.64M268.88,344.11V344.66M269.32,344.11V344.47M269.77,344.07V344.66M270.23,344.10V344.69M270.68,344.28V344.73M271.12,344.27V344.64M271.57,344.20V344.59M272.02,344.08V344.64M272.48,344.26V344.52" fill="none" stroke="#000" stroke-width="0.9"/>
<line x1="125.80" y1="344.4" x2="272.80" y2="344.4" stroke="#1a1a1a" stroke-width="1.6"/>
<path d="M196.50,319.80 L196.80,363.40" stroke="#000" stroke-width="1.4" fill="none"/>
<path d="M197.60,326.40 L197.90,366.40" stroke="#000" stroke-width="1.4" fill="none"/>
<text transform="translate(317.50,347.80) scale(1,1.05)" x="0" y="0" font-size="15" text-anchor="end" fill="#000" >-0.012</text>
<path d="M357.68,344.35V344.57M358.12,344.14V344.56M358.57,344.13V344.88M359.02,343.98V344.80M359.48,343.81V344.68M359.93,343.89V344.71M360.38,343.67V345.49M360.82,343.55V345.08M361.27,343.51V345.11M361.73,344.09V344.86M362.18,343.72V345.33M362.62,343.18V345.17M363.07,343.49V345.09M363.52,343.80V345.33M363.98,343.27V345.44M364.43,343.38V345.25M364.88,342.85V345.79M365.32,344.00V345.59M365.77,343.56V345.09M366.23,342.81V345.04M366.68,343.63V344.97M367.12,343.13V345.19M367.57,343.47V345.45M368.02,343.80V346.06M368.48,343.41V346.77M368.93,343.45V346.26M369.38,342.84V345.59M369.82,342.79V346.35M370.27,342.58V346.56M370.73,342.32V344.90M371.18,342.81V345.45M371.62,343.85V346.82M372.07,343.73V345.59M372.52,342.26V345.66M372.98,342.93V345.70M373.43,342.61V345.45M373.88,343.09V345.82M374.32,343.07V345.66M374.77,342.88V344.93M375.23,342.38V346.76M375.68,341.69V347.51M376.12,341.83V346.50M376.57,343.13V345.38M377.02,342.93V345.11M377.48,343.19V345.52M377.93,342.96V346.09M378.38,341.95V347.68M378.82,343.50V346.21M379.27,342.18V346.39M379.73,341.57V346.07M380.18,342.08V345.30M380.62,342.29V345.55M381.07,343.17V347.81M381.52,341.99V348.27M381.98,339.67V346.34M382.43,341.40V346.09M382.88,343.43V348.34M383.32,342.24V346.29M383.77,340.54V347.24M384.23,339.76V351.55M384.68,341.67V352.65M385.12,335.95V348.36M385.57,332.41V348.93M386.02,336.84V354.93M386.48,339.26V358.30M386.93,339.30V348.33M387.38,337.21V349.57M387.82,333.73V358.25M388.27,332.07V351.89M388.73,331.39V346.69M389.18,332.34V351.17M389.62,334.12V357.78M390.07,337.57V357.78M390.52,336.95V355.11M390.98,339.63V356.42M391.43,328.27V358.20M391.88,333.32V350.56M392.32,337.85V348.10M392.77,335.22V352.11M393.23,331.16V348.38M393.68,335.66V351.42M394.12,341.20V349.34M394.57,341.48V350.48M395.02,340.98V349.92M395.48,342.28V352.19M395.93,336.16V354.74M396.38,334.91V347.92M396.82,337.50V351.66M397.27,339.66V352.39M397.73,338.56V349.52M398.18,340.61V346.85M398.62,341.78V351.89M399.07,342.25V350.29M399.52,340.14V349.23M399.98,337.30V347.35M400.43,341.02V347.14M400.88,340.97V346.54M401.32,342.26V345.66M401.77,339.85V347.68M402.23,340.65V349.12M402.68,342.90V348.57M403.12,340.88V347.17M403.57,339.08V348.08M404.02,342.12V347.75M404.48,343.88V347.44M404.93,339.73V346.44M405.38,339.31V346.30M405.82,340.06V348.12M406.27,341.06V348.85M406.73,341.24V349.29M407.18,340.35V347.30M407.62,341.65V346.59M408.07,339.94V347.44M408.52,342.93V346.29M408.98,342.36V346.83M409.43,341.53V346.78M409.88,343.01V346.82M410.32,343.74V345.68M410.77,342.67V346.04M411.23,343.07V346.04M411.68,341.34V346.25M412.12,342.36V345.31M412.57,342.41V345.84M413.02,341.47V347.95M413.48,342.93V346.77M413.93,341.99V346.55M414.38,343.33V347.53M414.82,341.66V345.45M415.27,342.18V347.28M415.73,341.57V345.88M416.18,341.93V346.31M416.62,343.33V347.28M417.07,343.23V347.28M417.52,342.51V346.47M417.98,341.33V346.98M418.43,342.94V345.36M418.88,342.19V346.52M419.32,342.86V347.35M419.77,343.08V346.48M420.23,342.42V344.25M420.68,342.37V346.10M421.12,343.66V344.88M421.57,343.18V346.11M422.02,343.94V346.69M422.48,343.64V346.06M422.93,341.87V345.39M423.38,341.67V345.40M423.82,341.74V346.22M424.27,343.01V345.84M424.73,342.98V345.85M425.18,343.73V346.25M425.62,343.28V345.54M426.07,341.82V345.31M426.52,341.82V345.12M426.98,343.51V345.39M427.43,343.04V346.08M427.88,343.16V345.40M428.32,343.32V345.68M428.77,343.27V345.73M429.23,342.73V346.26M429.68,343.33V345.30M430.12,343.53V346.76M430.57,342.00V345.32M431.02,342.14V345.44M431.48,343.42V346.88M431.93,343.61V346.33M432.38,342.90V344.77M432.82,343.78V346.04M433.27,343.72V346.36M433.73,342.61V346.22M434.18,342.44V345.10M434.62,342.87V345.03M435.07,343.31V345.73M435.52,344.11V346.56M435.98,343.39V346.08M436.43,342.08V345.28M436.88,343.16V345.99M437.32,343.77V346.21M437.77,342.87V344.65M438.23,342.87V345.67M438.68,344.26V346.64M439.12,343.53V345.29M439.57,343.29V344.81M440.02,343.37V345.44M440.48,342.77V345.25M440.93,343.27V345.83M441.38,343.15V346.30M441.82,343.12V345.71M442.27,342.25V344.80M442.73,343.67V345.68M443.18,343.24V346.34M443.62,342.73V345.55M444.07,343.19V344.86M444.52,343.98V345.39M444.98,343.10V346.21M445.43,343.25V345.54M445.88,342.92V345.14M446.32,342.92V345.47M446.77,343.94V345.84M447.23,343.55V345.22M447.68,342.91V345.50M448.12,343.71V346.43M448.57,343.09V345.56M449.02,342.40V344.51M449.48,344.21V346.07M449.93,343.00V346.33M450.38,343.77V344.99M450.82,344.26V344.54M451.27,344.30V344.61M451.73,344.24V344.61M452.18,344.31V344.53M452.62,344.20V344.59M453.07,344.18V344.59M453.52,344.27V344.58M453.98,344.18V344.60M454.43,344.24V344.58M454.88,344.23V344.59M455.32,344.32V344.72M456.23,344.23V344.49M456.68,344.21V344.53M457.12,344.35V344.57M457.57,344.21V344.44M458.02,344.27V344.53M458.48,344.33V344.56M458.93,344.35V344.59M459.82,344.26V344.56M460.27,344.20V344.70M460.73,344.21V344.54M461.18,344.21V344.53M461.62,344.16V344.61M462.07,344.14V344.69M462.52,344.15V344.52M462.98,344.15V344.60M463.43,344.36V344.71M463.88,344.11V344.56" fill="none" stroke="#000" stroke-width="0.9"/>
<line x1="316.90" y1="344.4" x2="464.20" y2="344.4" stroke="#1a1a1a" stroke-width="1.6"/>
<path d="M388.20,325.40 L388.50,356.40" stroke="#000" stroke-width="1.4" fill="none"/>
<path d="M390.00,330.40 L390.30,367.20" stroke="#000" stroke-width="1.4" fill="none"/>
<text transform="translate(510.00,347.80) scale(1,1.05)" x="0" y="0" font-size="15" text-anchor="end" fill="#000" >-0.013</text>
<path d="M550.67,344.34V344.61M551.12,343.98V344.58M551.58,343.85V344.63M552.02,344.16V344.79M552.48,343.90V344.88M552.92,343.90V344.98M553.38,343.90V345.24M553.83,344.18V345.20M554.27,343.73V344.60M554.73,342.82V345.27M555.17,343.23V346.07M555.62,344.31V346.04M556.08,343.66V346.04M556.52,343.19V344.72M556.98,343.53V345.71M557.42,343.14V346.05M557.88,342.63V345.21M558.33,342.88V345.04M558.77,342.71V346.09M559.23,343.81V345.50M559.67,343.63V345.50M560.12,343.91V345.45M560.58,343.10V345.31M561.02,342.33V345.57M561.48,342.51V345.77M561.92,343.26V346.59M562.38,343.01V345.79M562.83,342.34V345.21M563.27,342.88V346.16M563.73,343.85V346.28M564.17,343.96V345.17M564.62,344.15V345.78M565.08,343.91V345.74M565.52,343.40V344.92M565.98,342.19V345.48M566.42,343.11V345.51M566.88,343.30V346.94M567.33,342.12V346.33M567.77,341.90V346.33M568.23,341.59V347.24M568.67,343.85V347.31M569.12,342.49V347.31M569.58,341.60V345.25M570.02,343.79V346.86M570.48,343.36V347.23M570.92,342.65V345.44M571.38,342.56V346.97M571.83,342.81V345.98M572.27,340.95V347.82M572.73,341.75V346.18M573.17,342.13V346.90M573.62,343.20V346.04M574.08,342.35V347.55M574.52,343.03V348.36M574.98,342.19V347.35M575.42,339.01V345.80M575.88,338.85V344.48M576.33,337.46V349.50M576.77,333.57V350.03M577.23,333.57V349.28M577.67,337.87V355.24M578.12,335.11V353.26M578.58,333.84V356.74M579.02,336.61V352.15M579.48,332.73V352.08M579.92,320.39V358.53M580.38,327.10V360.92M580.83,326.87V360.92M581.27,335.75V352.70M581.73,334.92V359.95M582.17,337.40V355.26M582.62,333.75V351.44M583.08,329.25V356.92M583.52,332.26V354.96M583.98,336.19V356.66M584.42,336.23V352.32M584.88,338.08V348.93M585.33,339.04V348.93M585.77,334.39V348.93M586.23,341.52V349.79M586.67,338.20V349.98M587.12,336.21V347.92M587.58,333.52V353.39M588.02,342.28V350.75M588.48,338.87V350.62M588.92,338.51V351.01M589.38,338.81V354.98M589.83,339.63V346.67M590.27,340.39V349.32M590.73,339.81V350.48M591.17,338.72V349.56M591.62,339.22V348.15M592.08,342.37V349.60M592.52,340.24V350.84M592.98,337.32V347.35M593.42,337.32V347.71M593.88,340.77V348.95M594.33,337.45V349.40M594.77,339.95V347.78M595.23,340.82V348.14M595.67,341.38V346.97M596.12,339.42V348.47M596.58,339.42V349.88M597.02,339.87V347.54M597.48,339.11V347.60M597.92,342.21V348.48M598.38,341.04V347.49M598.83,342.46V345.76M599.27,341.14V347.01M599.73,342.98V347.36M600.17,340.04V345.79M600.62,340.04V347.35M601.08,342.63V346.01M601.52,342.98V346.56M601.98,340.59V346.00M602.42,342.03V346.66M602.88,343.49V346.97M603.33,341.99V346.29M603.77,341.99V345.67M604.23,342.71V348.16M604.67,341.62V347.69M605.12,343.13V347.02M605.58,341.87V346.62M606.02,340.67V345.43M606.48,341.47V345.60M606.92,343.69V348.01M607.38,341.69V348.01M607.83,342.07V346.54M608.27,341.36V346.00M608.73,341.19V346.27M609.17,341.94V345.14M609.62,343.37V346.22M610.08,343.08V345.82M610.52,341.43V344.89M610.98,341.48V345.42M611.42,343.86V346.46M611.88,342.75V345.47M612.33,342.95V345.65M612.77,342.68V346.29M613.23,341.93V346.47M613.67,342.46V344.69M614.12,343.97V346.61M614.58,343.50V346.35M615.02,343.19V345.47M615.48,343.48V345.47M615.92,342.60V345.82M616.38,342.18V344.50M616.83,342.94V345.42M617.27,342.64V346.21M617.73,343.09V346.38M618.17,343.80V347.40M618.62,342.94V346.12M619.08,342.79V345.12M619.52,342.07V346.07M619.98,342.04V346.32M620.42,342.15V345.37M620.88,342.39V345.01M621.33,343.02V345.88M621.77,343.57V346.33M622.23,344.04V346.39M622.67,343.83V345.84M623.12,343.52V346.21M623.58,343.31V345.37M624.02,342.56V346.56M624.48,342.30V347.17M624.92,341.90V345.32M625.38,341.84V345.14M625.83,342.76V346.50M626.27,342.63V346.22M626.73,343.07V345.98M627.17,343.80V346.21M627.62,343.91V346.22M628.08,342.81V345.88M628.52,342.65V345.07M628.98,342.31V345.49M629.42,342.45V346.02M629.88,343.37V346.02M630.33,343.58V345.83M630.77,342.09V345.41M631.23,342.70V345.29M631.67,343.15V344.73M632.12,343.48V346.43M632.58,344.46V346.22M633.02,343.45V346.00M633.48,343.26V344.81M633.92,343.14V345.85M634.38,342.28V345.61M634.83,343.29V345.78M635.27,343.69V345.67M635.73,343.03V345.38M636.17,342.23V345.65M636.62,343.51V345.50M637.08,343.94V345.83M637.52,343.45V345.90M637.98,343.17V345.45M638.42,342.14V345.05M638.88,342.98V345.59M639.33,342.98V346.35M639.77,342.54V345.80M640.23,343.48V345.35M640.67,343.54V345.49M641.12,343.53V345.58M641.58,343.23V346.49M642.02,343.90V345.60M642.48,343.91V345.22M642.92,342.87V345.29M643.38,343.73V345.11M643.83,344.19V344.61M644.27,344.13V344.70M644.73,344.20V344.64M645.17,344.13V344.52M645.62,344.32V344.70M646.08,344.22V344.48M646.52,344.20V344.46M646.98,344.16V344.59M647.42,344.21V344.60M647.88,344.34V344.60M648.33,344.31V344.60M648.77,344.29V344.55M649.23,344.11V344.53M649.67,344.08V344.62M650.12,344.28V344.53M650.58,344.25V344.58M651.02,344.23V344.66M651.48,344.17V344.73M651.92,344.21V344.62M652.38,344.20V344.51M652.83,344.13V344.60M653.27,344.07V344.49M653.73,344.23V344.51M654.17,344.33V344.55M654.62,344.22V344.65M655.08,344.21V344.59M655.52,344.27V344.58M655.98,344.17V344.47" fill="none" stroke="#000" stroke-width="0.9"/>
<line x1="509.40" y1="344.4" x2="656.30" y2="344.4" stroke="#1a1a1a" stroke-width="1.6"/>
<path d="M580.30,321.40 L580.60,369.60" stroke="#000" stroke-width="1.4" fill="none"/>
<line x1="125.80" y1="380.8" x2="272.80" y2="380.8" stroke="#111" stroke-width="1.6"/>
<line x1="125.80" y1="376.9" x2="125.80" y2="381.5" stroke="#111" stroke-width="1.5"/>
<text transform="translate(126.60,398.00) scale(1,1.05)" x="0" y="0" font-size="15.2" text-anchor="middle" fill="#000" >0</text>
<line x1="174.80" y1="376.9" x2="174.80" y2="381.5" stroke="#111" stroke-width="1.5"/>
<text transform="translate(175.60,398.00) scale(1,1.05)" x="0" y="0" font-size="15.2" text-anchor="middle" fill="#000" >100</text>
<line x1="223.80" y1="376.9" x2="223.80" y2="381.5" stroke="#111" stroke-width="1.5"/>
<text transform="translate(224.60,398.00) scale(1,1.05)" x="0" y="0" font-size="15.2" text-anchor="middle" fill="#000" >200</text>
<line x1="272.80" y1="376.9" x2="272.80" y2="381.5" stroke="#111" stroke-width="1.5"/>
<text transform="translate(273.60,398.00) scale(1,1.05)" x="0" y="0" font-size="15.2" text-anchor="middle" fill="#000" >300</text>
<text transform="translate(201.30,425.70) scale(1,1.05)" x="0" y="0" font-size="15" font-weight="bold" text-anchor="middle" fill="#000" >Time(s)</text>
<line x1="316.90" y1="380.8" x2="463.90" y2="380.8" stroke="#111" stroke-width="1.6"/>
<line x1="316.90" y1="376.9" x2="316.90" y2="381.5" stroke="#111" stroke-width="1.5"/>
<text transform="translate(317.70,398.00) scale(1,1.05)" x="0" y="0" font-size="15.2" text-anchor="middle" fill="#000" >0</text>
<line x1="365.90" y1="376.9" x2="365.90" y2="381.5" stroke="#111" stroke-width="1.5"/>
<text transform="translate(366.70,398.00) scale(1,1.05)" x="0" y="0" font-size="15.2" text-anchor="middle" fill="#000" >100</text>
<line x1="414.90" y1="376.9" x2="414.90" y2="381.5" stroke="#111" stroke-width="1.5"/>
<text transform="translate(415.70,398.00) scale(1,1.05)" x="0" y="0" font-size="15.2" text-anchor="middle" fill="#000" >200</text>
<line x1="463.90" y1="376.9" x2="463.90" y2="381.5" stroke="#111" stroke-width="1.5"/>
<text transform="translate(464.70,398.00) scale(1,1.05)" x="0" y="0" font-size="15.2" text-anchor="middle" fill="#000" >300</text>
<text transform="translate(392.40,425.70) scale(1,1.05)" x="0" y="0" font-size="15" font-weight="bold" text-anchor="middle" fill="#000" >Time(s)</text>
<line x1="509.40" y1="380.8" x2="656.40" y2="380.8" stroke="#111" stroke-width="1.6"/>
<line x1="509.40" y1="376.9" x2="509.40" y2="381.5" stroke="#111" stroke-width="1.5"/>
<text transform="translate(510.20,398.00) scale(1,1.05)" x="0" y="0" font-size="15.2" text-anchor="middle" fill="#000" >0</text>
<line x1="558.40" y1="376.9" x2="558.40" y2="381.5" stroke="#111" stroke-width="1.5"/>
<text transform="translate(559.20,398.00) scale(1,1.05)" x="0" y="0" font-size="15.2" text-anchor="middle" fill="#000" >100</text>
<line x1="607.40" y1="376.9" x2="607.40" y2="381.5" stroke="#111" stroke-width="1.5"/>
<text transform="translate(608.20,398.00) scale(1,1.05)" x="0" y="0" font-size="15.2" text-anchor="middle" fill="#000" >200</text>
<line x1="656.40" y1="376.9" x2="656.40" y2="381.5" stroke="#111" stroke-width="1.5"/>
<text transform="translate(657.20,398.00) scale(1,1.05)" x="0" y="0" font-size="15.2" text-anchor="middle" fill="#000" >300</text>
<text transform="translate(584.90,425.70) scale(1,1.05)" x="0" y="0" font-size="15" font-weight="bold" text-anchor="middle" fill="#000" >Time(s)</text>
<line x1="85.30" y1="517.90" x2="268.50" y2="517.90" stroke="#d9d9d9" stroke-width="1.2"/>
<line x1="85.30" y1="563.00" x2="268.50" y2="563.00" stroke="#d9d9d9" stroke-width="1.2"/>
<line x1="85.30" y1="608.10" x2="268.50" y2="608.10" stroke="#d9d9d9" stroke-width="1.2"/>
<line x1="146.37" y1="472.80" x2="146.37" y2="653.20" stroke="#d9d9d9" stroke-width="1.2"/>
<line x1="207.43" y1="472.80" x2="207.43" y2="653.20" stroke="#d9d9d9" stroke-width="1.2"/>
<clipPath id="clipNPW"><rect x="85.30" y="470.80" width="183.20" height="184.40"/></clipPath>
<path d="M85.4,528.5 L113.2,528.9 L122.0,528.2 L127.8,526.4 L135.1,523.5 L140.2,520.6 L143.9,520.1 L148.2,512.8 L153.3,508.9 L157.0,509.9 L161.4,518.7 L163.6,520.1 L167.9,527.4 L171.6,521.6 L175.2,526.4 L178.9,523.8 L184.0,523.8 L189.7,520.8 L196.7,528.5 L200.8,524.3 L207.8,525.0 L210.8,520.6 L214.7,526.4 L221.7,528.5 L228.6,531.9 L238.3,535.4 L243.9,544.4 L250.8,554.2 L256.4,566.7 L268.2,584.7" fill="none" stroke="#3366ae" stroke-width="2.2" stroke-linejoin="round" stroke-linecap="round" clip-path="url(#clipNPW)"/>
<path d="M85.4,526.4 L114.7,527.0 L122.0,523.8 L130.7,517.2 L139.5,512.8 L145.3,509.9 L149.7,505.5 L152.6,499.0 L154.8,497.8 L157.0,500.4 L159.2,507.0 L163.6,512.1 L168.7,523.8 L171.6,517.7 L176.0,523.8 L180.4,520.9 L182.8,519.4 L187.6,520.6 L191.1,527.8 L195.3,522.2 L202.2,529.9 L207.1,530.8 L216.1,522.9 L224.4,525.0 L232.8,532.6 L241.1,542.4 L249.4,545.8 L257.8,554.2 L268.2,567.4" fill="none" stroke="#e2752e" stroke-width="2.2" stroke-linejoin="round" stroke-linecap="round" clip-path="url(#clipNPW)"/>
<path d="M85.4,515.8 L113.2,513.9 L122.0,511.4 L127.8,507.0 L136.6,492.0 L143.6,504.1 L148.2,502.6 L152.6,501.6 L157.0,501.9 L161.4,505.5 L165.0,509.2 L167.2,509.9 L171.6,515.0 L176.0,518.7 L180.0,524.3 L186.3,531.3 L189.7,527.1 L193.2,525.7 L199.4,540.3 L203.6,533.3 L207.8,536.8 L214.7,524.7 L221.7,529.9 L231.4,545.8 L239.7,555.6 L245.3,565.3 L250.8,577.1 L255.0,579.9 L258.5,586.1 L263.3,587.5 L268.2,595.1" fill="none" stroke="#e4ae28" stroke-width="2.2" stroke-linejoin="round" stroke-linecap="round" clip-path="url(#clipNPW)"/>
<rect x="85.30" y="472.80" width="183.20" height="180.40" fill="none" stroke="#111" stroke-width="1.5"/>
<line x1="85.30" y1="653.20" x2="85.30" y2="657.00" stroke="#111" stroke-width="1.4"/>
<line x1="146.37" y1="653.20" x2="146.37" y2="657.00" stroke="#111" stroke-width="1.4"/>
<line x1="207.43" y1="653.20" x2="207.43" y2="657.00" stroke="#111" stroke-width="1.4"/>
<line x1="268.50" y1="653.20" x2="268.50" y2="657.00" stroke="#111" stroke-width="1.4"/>
<text transform="translate(86.10,672.60) scale(1,1.05)" x="0" y="0" font-size="15.3" text-anchor="middle" fill="#000" >0.01</text>
<text transform="translate(147.17,672.60) scale(1,1.05)" x="0" y="0" font-size="15.3" text-anchor="middle" fill="#000" >0.1</text>
<text transform="translate(208.23,672.60) scale(1,1.05)" x="0" y="0" font-size="15.3" text-anchor="middle" fill="#000" >1</text>
<text transform="translate(269.30,672.60) scale(1,1.05)" x="0" y="0" font-size="15.3" text-anchor="middle" fill="#000" >10</text>
<text transform="translate(77.20,477.00) scale(1,1.05)" x="0" y="0" font-size="15.4" text-anchor="end" fill="#000" >10</text>
<text transform="translate(74.40,522.10) scale(1,1.05)" x="0" y="0" font-size="15.4" text-anchor="end" fill="#000" >1</text>
<text transform="translate(76.50,567.20) scale(1,1.05)" x="0" y="0" font-size="15.4" text-anchor="end" fill="#000" >0.1</text>
<text transform="translate(77.40,612.30) scale(1,1.05)" x="0" y="0" font-size="15.4" text-anchor="end" fill="#000" >0.01</text>
<text transform="translate(78.90,657.40) scale(1,1.05)" x="0" y="0" font-size="15.4" text-anchor="end" fill="#000" >0.001</text>
<line x1="293.10" y1="516.77" x2="463.80" y2="516.77" stroke="#d9d9d9" stroke-width="1.2"/>
<line x1="293.10" y1="562.25" x2="463.80" y2="562.25" stroke="#d9d9d9" stroke-width="1.2"/>
<line x1="293.10" y1="607.73" x2="463.80" y2="607.73" stroke="#d9d9d9" stroke-width="1.2"/>
<line x1="350.00" y1="471.30" x2="350.00" y2="653.20" stroke="#d9d9d9" stroke-width="1.2"/>
<line x1="406.90" y1="471.30" x2="406.90" y2="653.20" stroke="#d9d9d9" stroke-width="1.2"/>
<clipPath id="clipNGU"><rect x="293.10" y="469.30" width="170.70" height="185.90"/></clipPath>
<path d="M293.5,579.0 L316.3,578.8 L329.4,578.1 L341.2,577.1 L347.8,572.8 L351.8,571.5 L354.4,574.2 L357.0,571.5 L361.0,561.7 L366.2,563.0 L371.5,556.4 L374.1,559.7 L377.6,555.1 L381.6,557.1 L386.2,555.5 L388.8,561.0 L391.4,556.4 L394.4,552.5 L397.3,559.7 L400.0,565.0 L402.6,574.8 L406.5,567.6 L410.5,572.8 L414.4,566.9 L418.4,563.0 L423.6,576.8 L427.6,584.7 L431.5,590.6 L434.8,583.4 L438.1,589.9 L442.0,597.2 L446.6,598.5 L449.2,602.4 L452.5,593.2 L456.5,607.0 L461.1,614.9 L463.6,624.0" fill="none" stroke="#3366ae" stroke-width="2.2" stroke-linejoin="round" stroke-linecap="round" clip-path="url(#clipNGU)"/>
<path d="M293.5,573.5 L318.9,573.2 L326.8,572.8 L336.0,573.1 L345.2,570.9 L355.7,570.9 L357.0,570.2 L359.6,559.7 L361.6,561.7 L365.5,557.7 L368.8,563.0 L372.1,558.4 L376.7,555.8 L377.6,555.8 L382.9,558.4 L386.8,563.6 L390.8,562.3 L393.4,565.0 L396.0,562.3 L401.3,569.6 L405.9,565.0 L409.8,568.2 L413.8,563.6 L416.4,565.0 L419.0,558.4 L421.0,561.0 L423.6,574.8 L426.9,576.1 L430.2,586.6 L435.4,590.6 L439.4,584.0 L443.3,593.9 L446.6,589.9 L449.9,591.9 L453.8,601.8 L459.1,605.0 L463.6,613.0" fill="none" stroke="#e2752e" stroke-width="2.2" stroke-linejoin="round" stroke-linecap="round" clip-path="url(#clipNGU)"/>
<path d="M293.5,596.5 L325.5,595.8 L332.0,593.6 L337.3,592.6 L343.9,589.3 L347.8,583.4 L351.8,575.5 L355.7,579.4 L359.6,579.4 L361.6,575.5 L364.2,573.5 L367.5,579.4 L371.5,578.1 L376.7,579.4 L378.9,575.5 L382.9,578.8 L386.8,578.1 L390.8,582.7 L396.0,588.6 L400.0,589.9 L403.2,591.2 L405.9,587.3 L409.8,589.3 L412.4,585.3 L416.4,593.9 L420.3,589.3 L423.6,595.8 L430.2,586.6 L434.8,595.2 L439.4,596.5 L442.0,604.4 L446.0,597.8 L449.9,596.5 L452.5,611.0 L457.8,609.6 L463.6,630.0" fill="none" stroke="#e4ae28" stroke-width="2.2" stroke-linejoin="round" stroke-linecap="round" clip-path="url(#clipNGU)"/>
<rect x="293.10" y="471.30" width="170.70" height="181.90" fill="none" stroke="#111" stroke-width="1.5"/>
<line x1="293.10" y1="653.20" x2="293.10" y2="657.00" stroke="#111" stroke-width="1.4"/>
<line x1="350.00" y1="653.20" x2="350.00" y2="657.00" stroke="#111" stroke-width="1.4"/>
<line x1="406.90" y1="653.20" x2="406.90" y2="657.00" stroke="#111" stroke-width="1.4"/>
<line x1="463.80" y1="653.20" x2="463.80" y2="657.00" stroke="#111" stroke-width="1.4"/>
<text transform="translate(293.90,672.60) scale(1,1.05)" x="0" y="0" font-size="15.3" text-anchor="middle" fill="#000" >0.01</text>
<text transform="translate(350.80,672.60) scale(1,1.05)" x="0" y="0" font-size="15.3" text-anchor="middle" fill="#000" >0.1</text>
<text transform="translate(407.70,672.60) scale(1,1.05)" x="0" y="0" font-size="15.3" text-anchor="middle" fill="#000" >1</text>
<text transform="translate(464.60,672.60) scale(1,1.05)" x="0" y="0" font-size="15.3" text-anchor="middle" fill="#000" >10</text>
<line x1="492.80" y1="516.77" x2="665.20" y2="516.77" stroke="#d9d9d9" stroke-width="1.2"/>
<line x1="492.80" y1="562.25" x2="665.20" y2="562.25" stroke="#d9d9d9" stroke-width="1.2"/>
<line x1="492.80" y1="607.73" x2="665.20" y2="607.73" stroke="#d9d9d9" stroke-width="1.2"/>
<line x1="550.27" y1="471.30" x2="550.27" y2="653.20" stroke="#d9d9d9" stroke-width="1.2"/>
<line x1="607.73" y1="471.30" x2="607.73" y2="653.20" stroke="#d9d9d9" stroke-width="1.2"/>
<clipPath id="clipYGN"><rect x="492.80" y="469.30" width="172.40" height="185.90"/></clipPath>
<path d="M493.3,589.8 L536.0,589.7 L549.1,589.2 L561.0,588.8 L568.8,587.4 L572.1,586.5 L575.4,589.2 L579.0,586.3 L583.1,586.3 L587.1,581.6 L591.1,582.9 L595.1,578.9 L598.5,582.2 L601.9,585.6 L607.2,579.5 L612.6,575.5 L618.0,572.8 L622.0,577.5 L626.0,575.5 L629.4,571.2 L634.1,575.5 L639.5,574.2 L643.5,578.2 L647.5,584.2 L650.2,591.6 L655.6,597.0 L661.0,596.3 L665.0,609.1" fill="none" stroke="#3366ae" stroke-width="2.2" stroke-linejoin="round" stroke-linecap="round" clip-path="url(#clipYGN)"/>
<path d="M493.3,595.3 L536.0,595.3 L549.1,595.1 L564.9,595.7 L568.8,593.4 L570.8,592.0 L572.1,588.1 L576.1,593.4 L580.4,591.6 L585.7,589.6 L592.5,583.6 L599.2,587.6 L605.9,578.2 L611.3,582.2 L619.3,578.2 L623.3,581.6 L630.1,582.2 L632.7,580.2 L636.1,571.5 L640.8,582.9 L644.8,578.2 L650.2,585.6 L654.2,590.3 L659.6,597.0 L665.0,615.1" fill="none" stroke="#e2752e" stroke-width="2.2" stroke-linejoin="round" stroke-linecap="round" clip-path="url(#clipYGN)"/>
<path d="M493.3,594.0 L534.7,593.4 L543.9,592.3 L547.2,591.0 L549.8,592.7 L553.1,590.1 L557.0,590.5 L560.3,592.0 L563.6,590.1 L566.2,587.4 L569.5,586.1 L572.8,589.4 L576.1,592.7 L580.4,588.3 L585.7,593.0 L589.8,586.3 L591.8,593.0 L595.1,582.2 L598.5,580.2 L603.2,581.6 L608.6,577.5 L612.6,582.9 L616.0,591.6 L621.3,583.6 L624.0,591.0 L630.1,583.6 L634.8,596.3 L638.8,597.0 L640.8,603.0 L645.5,607.7 L650.9,603.0 L653.6,612.4 L658.9,606.4 L665.0,613.1" fill="none" stroke="#e4ae28" stroke-width="2.2" stroke-linejoin="round" stroke-linecap="round" clip-path="url(#clipYGN)"/>
<rect x="492.80" y="471.30" width="172.40" height="181.90" fill="none" stroke="#111" stroke-width="1.5"/>
<line x1="492.80" y1="653.20" x2="492.80" y2="657.00" stroke="#111" stroke-width="1.4"/>
<line x1="550.27" y1="653.20" x2="550.27" y2="657.00" stroke="#111" stroke-width="1.4"/>
<line x1="607.73" y1="653.20" x2="607.73" y2="657.00" stroke="#111" stroke-width="1.4"/>
<line x1="665.20" y1="653.20" x2="665.20" y2="657.00" stroke="#111" stroke-width="1.4"/>
<text transform="translate(493.60,672.60) scale(1,1.05)" x="0" y="0" font-size="15.3" text-anchor="middle" fill="#000" >0.01</text>
<text transform="translate(551.07,672.60) scale(1,1.05)" x="0" y="0" font-size="15.3" text-anchor="middle" fill="#000" >0.1</text>
<text transform="translate(608.53,672.60) scale(1,1.05)" x="0" y="0" font-size="15.3" text-anchor="middle" fill="#000" >1</text>
<text transform="translate(666.00,672.60) scale(1,1.05)" x="0" y="0" font-size="15.3" text-anchor="middle" fill="#000" >10</text>
<text transform="translate(582.40,692.70) scale(1,1.05)" x="0" y="0" font-size="15.6" font-weight="bold" text-anchor="middle" fill="#000" >Period (s)</text>
<line x1="85.30" y1="736.40" x2="268.50" y2="736.40" stroke="#d9d9d9" stroke-width="1.2"/>
<line x1="85.30" y1="783.10" x2="268.50" y2="783.10" stroke="#d9d9d9" stroke-width="1.2"/>
<line x1="85.30" y1="829.80" x2="268.50" y2="829.80" stroke="#d9d9d9" stroke-width="1.2"/>
<line x1="146.37" y1="689.70" x2="146.37" y2="876.50" stroke="#d9d9d9" stroke-width="1.2"/>
<line x1="207.43" y1="689.70" x2="207.43" y2="876.50" stroke="#d9d9d9" stroke-width="1.2"/>
<clipPath id="clipKTN"><rect x="85.30" y="687.70" width="183.20" height="190.80"/></clipPath>
<path d="M85.4,828.8 L113.2,828.8 L135.1,828.4 L145.3,828.1 L149.0,827.2 L154.1,825.5 L158.5,822.8 L162.8,821.8 L168.7,815.3 L171.6,817.0 L176.0,808.7 L179.6,808.2 L183.9,813.2 L187.2,809.3 L193.1,808.6 L196.4,799.4 L199.7,797.4 L203.0,806.0 L206.9,813.2 L211.5,806.0 L215.2,800.1 L219.4,805.3 L222.0,812.6 L226.0,821.8 L229.9,815.8 L235.2,824.4 L239.1,819.1 L242.4,824.4 L244.4,832.9 L248.3,831.6 L252.3,840.1 L255.5,842.1 L260.1,852.0 L264.1,862.5 L268.2,867.7" fill="none" stroke="#3366ae" stroke-width="2.2" stroke-linejoin="round" stroke-linecap="round" clip-path="url(#clipKTN)"/>
<path d="M85.4,821.4 L113.2,821.4 L127.8,821.1 L148.2,821.1 L151.2,819.9 L155.5,821.8 L159.9,819.3 L163.6,817.4 L166.5,813.5 L170.1,813.1 L173.1,813.8 L175.2,805.8 L178.9,806.5 L181.8,799.2 L185.3,796.1 L190.5,801.4 L194.5,804.7 L198.4,803.4 L201.0,800.7 L205.0,796.8 L208.9,800.7 L212.2,795.5 L215.2,793.5 L218.1,804.7 L220.7,807.3 L224.7,804.0 L228.6,810.6 L233.9,815.2 L239.1,811.9 L243.1,820.4 L247.7,830.3 L251.6,828.3 L255.5,824.4 L259.5,826.4 L264.1,836.2 L268.2,843.4" fill="none" stroke="#e2752e" stroke-width="2.2" stroke-linejoin="round" stroke-linecap="round" clip-path="url(#clipKTN)"/>
<path d="M85.4,836.0 L120.5,835.7 L139.5,834.2 L148.2,834.5 L153.3,833.5 L157.7,830.6 L162.8,827.2 L166.5,831.3 L170.1,828.4 L173.1,825.8 L175.2,828.4 L178.2,821.8 L181.1,822.6 L185.3,818.5 L187.9,821.8 L191.8,825.7 L195.8,821.8 L199.7,815.8 L205.0,822.4 L208.9,816.5 L213.5,809.3 L219.4,807.3 L223.4,807.3 L226.6,816.5 L231.2,831.6 L235.2,835.5 L239.1,842.8 L243.1,846.7 L247.0,852.0 L250.3,863.8 L254.9,863.1 L258.8,867.7 L264.1,870.4 L268.2,875.6" fill="none" stroke="#e4ae28" stroke-width="2.2" stroke-linejoin="round" stroke-linecap="round" clip-path="url(#clipKTN)"/>
<rect x="85.30" y="689.70" width="183.20" height="186.80" fill="none" stroke="#111" stroke-width="1.5"/>
<line x1="85.30" y1="876.50" x2="85.30" y2="880.30" stroke="#111" stroke-width="1.4"/>
<line x1="146.37" y1="876.50" x2="146.37" y2="880.30" stroke="#111" stroke-width="1.4"/>
<line x1="207.43" y1="876.50" x2="207.43" y2="880.30" stroke="#111" stroke-width="1.4"/>
<line x1="268.50" y1="876.50" x2="268.50" y2="880.30" stroke="#111" stroke-width="1.4"/>
<text transform="translate(86.10,895.90) scale(1,1.05)" x="0" y="0" font-size="15.3" text-anchor="middle" fill="#000" >0.01</text>
<text transform="translate(147.17,895.90) scale(1,1.05)" x="0" y="0" font-size="15.3" text-anchor="middle" fill="#000" >0.1</text>
<text transform="translate(208.23,895.90) scale(1,1.05)" x="0" y="0" font-size="15.3" text-anchor="middle" fill="#000" >1</text>
<text transform="translate(269.30,895.90) scale(1,1.05)" x="0" y="0" font-size="15.3" text-anchor="middle" fill="#000" >10</text>
<text transform="translate(77.20,693.90) scale(1,1.05)" x="0" y="0" font-size="15.4" text-anchor="end" fill="#000" >10</text>
<text transform="translate(74.40,740.60) scale(1,1.05)" x="0" y="0" font-size="15.4" text-anchor="end" fill="#000" >1</text>
<text transform="translate(76.50,787.30) scale(1,1.05)" x="0" y="0" font-size="15.4" text-anchor="end" fill="#000" >0.1</text>
<text transform="translate(77.40,834.00) scale(1,1.05)" x="0" y="0" font-size="15.4" text-anchor="end" fill="#000" >0.01</text>
<text transform="translate(78.90,880.70) scale(1,1.05)" x="0" y="0" font-size="15.4" text-anchor="end" fill="#000" >0.001</text>
<text transform="translate(182.70,914.80) scale(1,1.05)" x="0" y="0" font-size="15.6" font-weight="bold" text-anchor="middle" fill="#000" >Period (s)</text>
<line x1="293.10" y1="735.35" x2="463.80" y2="735.35" stroke="#d9d9d9" stroke-width="1.2"/>
<line x1="293.10" y1="780.80" x2="463.80" y2="780.80" stroke="#d9d9d9" stroke-width="1.2"/>
<line x1="293.10" y1="826.25" x2="463.80" y2="826.25" stroke="#d9d9d9" stroke-width="1.2"/>
<line x1="350.00" y1="689.90" x2="350.00" y2="871.70" stroke="#d9d9d9" stroke-width="1.2"/>
<line x1="406.90" y1="689.90" x2="406.90" y2="871.70" stroke="#d9d9d9" stroke-width="1.2"/>
<clipPath id="clipCHTO"><rect x="293.10" y="687.90" width="170.70" height="185.80"/></clipPath>
<path d="M293.5,828.0 L322.8,828.0 L333.4,827.3 L338.6,826.6 L343.9,827.3 L347.8,825.7 L354.4,825.7 L357.0,823.4 L361.0,820.7 L364.2,822.0 L368.8,818.1 L372.8,815.5 L376.1,813.5 L380.4,815.6 L384.4,813.6 L388.4,817.6 L392.5,816.3 L396.5,810.2 L399.2,812.2 L403.2,808.2 L407.2,810.2 L411.9,806.2 L415.3,816.3 L420.7,812.9 L424.7,816.3 L428.7,810.9 L432.7,810.9 L436.8,817.6 L440.1,831.7 L443.5,830.4 L447.5,828.3 L452.9,823.6 L456.9,816.9 L461.0,824.3 L463.6,830.4" fill="none" stroke="#3366ae" stroke-width="2.2" stroke-linejoin="round" stroke-linecap="round" clip-path="url(#clipCHTO)"/>
<path d="M293.5,823.4 L329.4,823.1 L339.9,822.7 L342.6,821.0 L347.8,821.8 L353.1,822.7 L357.0,821.8 L361.0,820.1 L364.9,818.8 L368.8,819.4 L370.8,814.8 L374.7,810.9 L376.7,812.2 L379.0,814.2 L383.1,812.2 L388.4,811.6 L391.1,813.6 L394.5,806.9 L397.8,804.2 L401.9,810.9 L406.6,816.9 L409.9,810.2 L413.9,814.2 L418.0,818.3 L422.0,814.2 L426.0,820.3 L430.1,813.6 L435.4,811.6 L439.5,817.6 L443.5,823.0 L446.2,827.0 L450.2,825.7 L456.9,818.3 L463.6,824.3" fill="none" stroke="#e2752e" stroke-width="2.2" stroke-linejoin="round" stroke-linecap="round" clip-path="url(#clipCHTO)"/>
<path d="M293.5,822.0 L329.4,821.8 L339.9,820.7 L343.9,820.1 L347.8,821.4 L351.8,821.0 L354.4,822.3 L358.3,818.1 L361.6,816.1 L364.9,814.8 L368.2,810.9 L370.1,811.5 L373.4,807.6 L376.7,808.6 L380.4,808.2 L383.1,811.6 L385.7,804.2 L389.1,804.2 L391.8,798.8 L393.8,800.8 L396.5,794.1 L400.5,798.8 L403.9,806.9 L407.9,806.9 L411.9,801.5 L415.3,810.2 L419.3,814.9 L422.7,818.9 L426.0,814.9 L429.4,812.9 L432.7,818.9 L436.1,824.3 L439.5,818.9 L442.8,829.7 L445.5,833.7 L448.9,827.0 L452.9,823.6 L456.9,823.6 L460.3,823.6 L463.6,827.7" fill="none" stroke="#e4ae28" stroke-width="2.2" stroke-linejoin="round" stroke-linecap="round" clip-path="url(#clipCHTO)"/>
<rect x="293.10" y="689.90" width="170.70" height="181.80" fill="none" stroke="#111" stroke-width="1.5"/>
<line x1="293.10" y1="871.70" x2="293.10" y2="875.50" stroke="#111" stroke-width="1.4"/>
<line x1="350.00" y1="871.70" x2="350.00" y2="875.50" stroke="#111" stroke-width="1.4"/>
<line x1="406.90" y1="871.70" x2="406.90" y2="875.50" stroke="#111" stroke-width="1.4"/>
<line x1="463.80" y1="871.70" x2="463.80" y2="875.50" stroke="#111" stroke-width="1.4"/>
<text transform="translate(293.90,891.10) scale(1,1.05)" x="0" y="0" font-size="15.3" text-anchor="middle" fill="#000" >0.01</text>
<text transform="translate(350.80,891.10) scale(1,1.05)" x="0" y="0" font-size="15.3" text-anchor="middle" fill="#000" >0.1</text>
<text transform="translate(407.70,891.10) scale(1,1.05)" x="0" y="0" font-size="15.3" text-anchor="middle" fill="#000" >1</text>
<text transform="translate(464.60,891.10) scale(1,1.05)" x="0" y="0" font-size="15.3" text-anchor="middle" fill="#000" >10</text>
<text transform="translate(384.40,915.20) scale(1,1.05)" x="0" y="0" font-size="15.6" font-weight="bold" text-anchor="middle" fill="#000" >Period (s)</text>
<text transform="translate(251.20,494.70) scale(1,1.05)" x="0" y="0" font-size="15.3" font-weight="bold" text-anchor="end" fill="#000" >NPW</text>
<text transform="translate(450.80,494.80) scale(1,1.05)" x="0" y="0" font-size="15.3" font-weight="bold" text-anchor="end" fill="#000" >NGU</text>
<text transform="translate(649.50,494.90) scale(1,1.05)" x="0" y="0" font-size="15.3" font-weight="bold" text-anchor="end" fill="#000" >YGN</text>
<text transform="translate(251.20,711.80) scale(1,1.05)" x="0" y="0" font-size="15.3" font-weight="bold" text-anchor="end" fill="#000" >KTN</text>
<text transform="translate(446.60,712.30) scale(1,1.05)" x="0" y="0" font-size="15.8" font-weight="bold" text-anchor="end" fill="#000" >CHTO</text>
<g transform="translate(23.9,576.5) rotate(-90)">
<text transform="translate(0.00,0.00) scale(1,1.05)" x="0" y="0" font-size="15.3" font-weight="bold" text-anchor="middle" fill="#000" >Acceleration response</text>
</g>
<g transform="translate(23.9,575.1) rotate(-90)">
<text transform="translate(0.00,19.30) scale(1,1.05)" x="0" y="0" font-size="15.3" font-weight="bold" text-anchor="middle" fill="#000" >spectrum (g)</text>
</g>
<g transform="translate(23.9,795.0) rotate(-90)">
<text transform="translate(0.00,0.00) scale(1,1.05)" x="0" y="0" font-size="15.3" font-weight="bold" text-anchor="middle" fill="#000" >Acceleration response</text>
</g>
<g transform="translate(23.9,793.6) rotate(-90)">
<text transform="translate(0.00,19.30) scale(1,1.05)" x="0" y="0" font-size="15.3" font-weight="bold" text-anchor="middle" fill="#000" >spectrum (g)</text>
</g>
<line x1="545.8" y1="774.8" x2="584.4" y2="774.8" stroke="#3366ae" stroke-width="2.2" stroke-linecap="round"/>
<text transform="translate(597.00,777.40) scale(1,1.05)" x="0" y="0" font-size="15" font-weight="bold" text-anchor="start" fill="#000" >E-<tspan font-weight="normal">W</tspan></text>
<line x1="545.8" y1="804.1" x2="584.4" y2="804.1" stroke="#e2752e" stroke-width="2.2" stroke-linecap="round"/>
<text transform="translate(597.00,806.70) scale(1,1.05)" x="0" y="0" font-size="15" font-weight="bold" text-anchor="start" fill="#000" >N-S</text>
<line x1="545.8" y1="833.3" x2="584.4" y2="833.3" stroke="#e4ae28" stroke-width="2.2" stroke-linecap="round"/>
<text transform="translate(597.00,835.90) scale(1,1.05)" x="0" y="0" font-size="15" font-weight="bold" text-anchor="start" fill="#000" >U-D</text>
</svg>
</body></html>
